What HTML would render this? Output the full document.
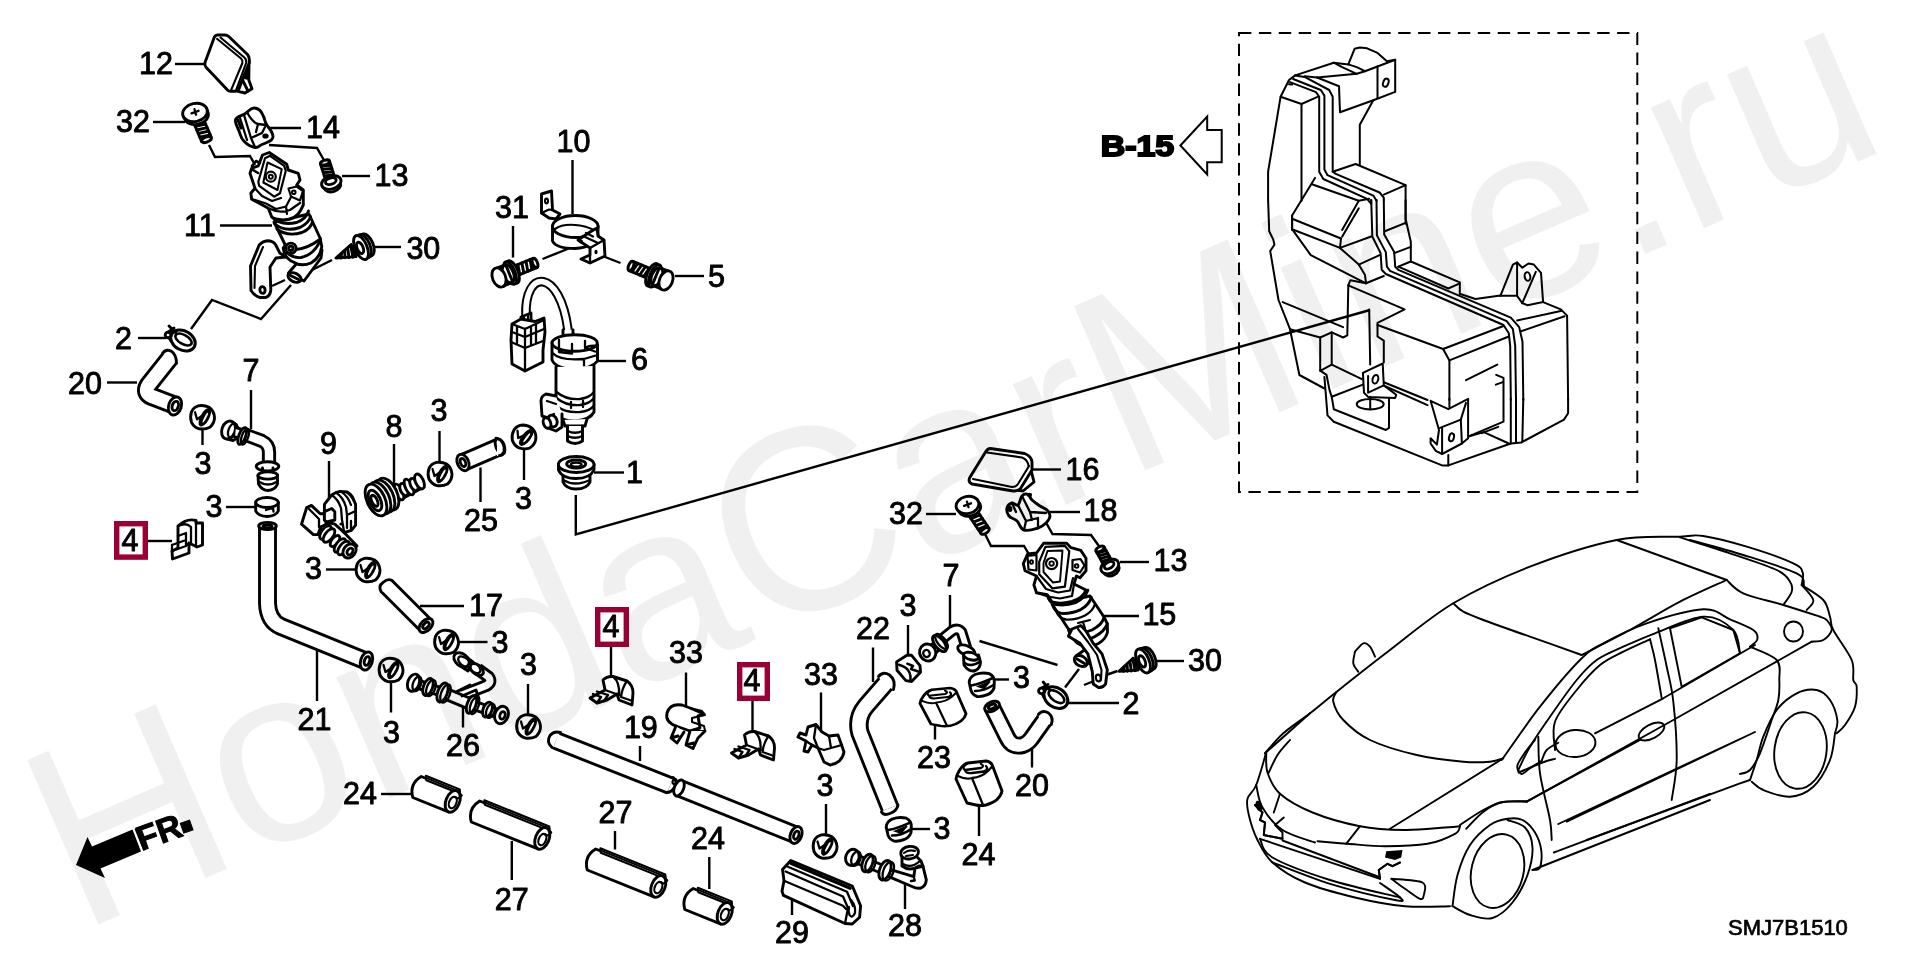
<!DOCTYPE html>
<html lang="en"><head><meta charset="utf-8"><title>SMJ7B1510 parts diagram</title>
<style>
html,body{margin:0;padding:0;background:#fff;}
body{width:1920px;height:960px;overflow:hidden;}
svg{display:block;will-change:transform;}
.lb{font-family:"Liberation Sans",Arial,sans-serif;font-size:30.5px;fill:#000;stroke:#000;stroke-width:0.9px;stroke-linejoin:round;}
.ld{fill:none;stroke:#000;stroke-width:2.4;stroke-linejoin:miter;}
.p{fill:none;stroke:#000;stroke-width:2.9;stroke-linejoin:round;stroke-linecap:round;}
.pf{fill:#fff;stroke:#000;stroke-width:2.9;stroke-linejoin:round;stroke-linecap:round;}
.t{fill:none;stroke:#000;stroke-width:2;stroke-linejoin:round;stroke-linecap:round;}
.tf{fill:#fff;stroke:#000;stroke-width:2;stroke-linejoin:round;stroke-linecap:round;}
.c{fill:none;stroke:#000;stroke-width:1.9;stroke-linejoin:round;stroke-linecap:round;}
.k{fill:#000;stroke:none;}
</style></head>
<body>
<svg width="1920" height="960" viewBox="0 0 1920 960">
<rect width="1920" height="960" fill="#fff"/>
<rect x="1239" y="33" width="398.3" height="459" fill="none" stroke="#000" stroke-width="2" stroke-dasharray="12.4 7.5"/>
<g id="tank">
<path class="t" d="M1295.2,75.4 L1289,80 L1280.6,96.7 L1268.1,171.7 L1268.1,200"/>
<path class="t" d="M1295.2,75.4 L1333.8,62.7 L1348.3,64.4 L1354.6,48.8 L1359.8,47.5 L1367.1,48.3 L1377.5,52.9 L1386.9,61.2 L1395.2,59.8 L1395.2,91.9 L1373.3,100.2 L1359.8,124.8 L1359.8,164.4"/>
<path class="t" d="M1377.5,66.5 L1395.2,59.8"/>
<path class="t" d="M1377.5,66.5 L1377.5,97.7"/>
<path class="t" d="M1333.8,62.7 L1342.1,67.1 L1356.7,73.8 L1365,71.2 L1377.5,66.5"/>
<path class="t" d="M1348.3,64.4 L1356.7,67.1 L1365,71.2"/>
<path class="t" d="M1317.1,77.5 L1356.7,73.8"/>
<path class="t" d="M1317.1,77.5 L1339,86.2 L1340,112.3 L1373.3,100.2"/>
<path class="t" d="M1304.6,76.2 L1317.1,77.5"/>
<path class="t" d="M1290,82.1 L1316,92.1 L1319.2,96.7 L1319.2,171.7 L1323.3,179 L1367.1,198.8 L1371.2,204 L1371.2,200"/>
<path class="t" d="M1293.1,79 L1320.8,90 L1324.4,95.6 L1324.4,169.6 L1327.5,175.2 L1373.3,195.6 L1376.5,200.8 L1376.5,200"/>
<path class="t" d="M1295.2,75.4 L1304.6,76.9 L1329.2,90 L1332.7,96.7 L1332.7,171.7 L1335.8,173.8 L1379.6,192.5 L1383.8,197.7 L1383.8,200"/>
<path class="t" d="M1280.6,96.7 L1301.5,104 L1318.1,96.7"/>
<path class="t" d="M1301.5,104 L1301.5,200.8"/>
<path class="t" d="M1289,84.2 L1292.1,84.6"/>
<path class="t" d="M1315,177.9 L1292.1,215.4 L1292.1,230"/>
<path class="t" d="M1311.9,184.2 L1358.8,200.8 L1369.2,198.8"/>
<path class="t" d="M1358.8,200.8 L1342.1,230"/>
<path class="t" d="M1332.7,171.7 L1355.6,164 L1405.6,185.2 L1405.6,223.8"/>
<path class="t" d="M1405.6,185.2 L1383.8,194.6"/>
<path class="t" d="M1268.1,200 L1269.2,231.2 L1273.3,239.6 L1274.4,244.8 L1270.2,251 L1278.5,300 L1290,329.2 L1299.4,375 L1324.4,388.5"/>
<path class="t" d="M1292.1,215.6 L1292.1,229.2 L1310.8,255.2 L1366,283.3"/>
<path class="t" d="M1292.1,218.8 L1341,238.5"/>
<path class="t" d="M1292.1,229.2 L1340,247.9"/>
<path class="t" d="M1342.1,236.7 L1358.8,208.3"/>
<path class="t" d="M1341,238.5 L1340,247.9 L1371.2,236.5"/>
<path class="t" d="M1340,247.9 L1358.8,264.6 L1365,275 L1366,283.3 L1383.8,276"/>
<path class="t" d="M1358.8,264.6 L1379.6,255.2"/>
<path class="t" d="M1371.2,200 L1372.3,236.5 L1380.6,253.1 L1381.7,269.8 L1385.8,274 L1503.5,325 L1508.8,333.3 L1510.2,345.8 L1510.8,400"/>
<path class="t" d="M1376.5,200 L1376.9,235.4 L1385.8,252.1 L1386.9,266.7 L1390,270.8 L1506.7,321.2 L1512.9,329.2 L1515.2,345.8 L1516,400"/>
<path class="t" d="M1383.8,200 L1384.2,234.4 L1394.2,252.1 L1395.2,266.7 L1398.3,269.8 L1510.8,317.7 L1519.2,327.1 L1522.5,341.7 L1523.3,400"/>
<path class="t" d="M1405.6,200 L1405.6,218.8 L1410.8,241.7 L1410.8,261.5 L1398.3,266.7"/>
<path class="t" d="M1405.6,222.9 L1384.8,231.2"/>
<path class="t" d="M1410.8,246.9 L1394.2,253.1"/>
<path class="t" d="M1410.8,261.5 L1459.8,282.3 L1459.8,293.8"/>
<path class="t" d="M1398.3,266.7 L1448.3,288.5 L1459.8,283.3"/>
<path class="t" d="M1459.8,293.8 L1475.4,299 L1500.4,295.4"/>
<path class="t" d="M1500.4,295.8 L1512.9,264.6 L1517.1,262.5 L1522.3,267.7 L1528.5,263.5 L1533.8,264.6 L1541,272.9 L1543.1,302.1 L1527.5,305.2 L1522.3,303.1 L1535.8,271.9"/>
<path class="t" d="M1517.1,262.5 L1517.1,295.8"/>
<path class="t" d="M1522.3,303.1 L1517.1,295.8 L1500.4,295.8"/>
<path class="t" d="M1543.1,302.1 L1560.8,309.4 L1567.1,315.6 L1568.1,400"/>
<path class="t" d="M1521.2,331.2 L1564.6,316.2"/>
<path class="t" d="M1517.1,320.4 L1561.9,310.8"/>
<path class="t" d="M1348.3,285.4 L1350.4,280.2 L1366,283.3"/>
<path class="t" d="M1348.3,285.4 L1404.6,309.4 L1377.5,322.9 L1377.5,336.5 L1383.8,340.6 L1383.8,362.5"/>
<path class="t" d="M1348.3,285.4 L1347.3,335.4 L1343.1,337.5 L1331.7,332.3 L1320.2,337.5 L1320.2,370.8 L1331.7,364.6 L1361.9,379.2"/>
<path class="t" d="M1331.7,332.3 L1331.7,364.6"/>
<path class="t" d="M1369.2,309.4 L1370.2,364.6"/>
<path class="t" d="M1282.7,302.1 L1343.1,327.1"/>
<path class="t" d="M1290,329.2 L1320.2,337.5"/>
<path class="t" d="M1377.5,325 L1443.1,349 L1449.4,360.4 L1449.4,400"/>
<path class="t" d="M1443.1,349 L1503.5,326"/>
<path class="t" d="M1449.4,360.4 L1508.8,336.5"/>
<path class="t" d="M1362.9,372.9 L1382.7,363.5 L1383.8,385.4 L1396.2,394.8 L1395.2,397.9 L1368.1,396.9 L1364,392.7 L1362.9,372.9"/>
<path class="t" d="M1368.1,376 L1368.1,392.7 L1383.8,385.4"/>
<path class="t" d="M1466,380.2 L1497.3,364.6"/>
<path class="t" d="M1383.8,382.3 L1427.5,400"/>
<path class="t" d="M1385.8,386.5 L1427.5,405.2"/>
<path class="t" d="M1320.2,370.6 L1326.5,374.8 L1329.6,390.4 L1331.7,396.7 L1333.8,409.2 L1385.8,430 L1389,427.9 L1389,398.8"/>
<path class="t" d="M1324.4,376.9 L1327.5,415.4 L1333.8,421.7 L1442.1,465.4 L1448.3,465.4 L1510.8,443.5 L1521.2,442.5 L1564,419.6 L1568.1,413.3 L1568.1,398.8"/>
<path class="t" d="M1331.7,396.7 L1362.9,384.6"/>
<path class="t" d="M1449.4,398.8 L1449.4,407.1"/>
<path class="t" d="M1430.6,400.8 L1448.3,409.2 L1468.1,398.8 L1468.1,438.3 L1461.9,443.5 L1442.1,454 L1435.8,450.8 L1430.6,443.5 L1430.6,438.3 L1436.9,444.6 L1439,430 L1430.6,400.8"/>
<path class="t" d="M1440,427.9 L1460.8,419.6 L1466,402.9"/>
<path class="t" d="M1442.1,427.9 L1442.1,454"/>
<path class="t" d="M1460.8,419.6 L1461.9,443.5"/>
<path class="t" d="M1496.2,374.8 L1503.5,377.9 L1503.5,421.7 L1469.2,436.2"/>
<path class="t" d="M1495.8,384.6 L1502.9,382.1"/>
<path class="t" d="M1469.2,436.2 L1483.8,432.1 L1508.8,443.5"/>
<path class="t" d="M1481.7,433.1 L1498.3,426.9"/>
<path class="t" d="M1510.8,398.8 L1510.8,443.5"/>
<path class="t" d="M1516,398.8 L1516,443.1"/>
<path class="t" d="M1523.3,398.8 L1522.3,441.5"/>
<path class="t" d="M1448.3,455 L1448.3,465.4"/>
<path class="t" d="M1370.2,396.7 L1370.2,409.2"/>
<ellipse class="t" cx="1385.8" cy="82.7" rx="2.6" ry="4.2" transform="rotate(20 1385.8 82.7)"/>
<ellipse class="t" cx="1527.5" cy="276.5" rx="2.8" ry="4.4" transform="rotate(-10 1527.5 276.5)"/>
<ellipse class="t" cx="1375.4" cy="379.3" rx="2.8" ry="4.4" transform="rotate(15 1375.4 379.3)"/>
<ellipse class="t" cx="1451.5" cy="437.3" rx="2.4" ry="4" transform="rotate(15 1451.5 437.3)"/>
<ellipse class="t" cx="1370.2" cy="404.2" rx="13.5" ry="5.2"/>
</g>
<g id="car">
<ellipse class="c" cx="1575.5" cy="743.5" rx="20" ry="13.5" transform="rotate(-5 1575.5 743.5)"/>
<ellipse class="c" cx="1651.5" cy="731.5" rx="14" ry="7" transform="rotate(-28 1651.5 731.5)"/>
<ellipse class="c" cx="1800.5" cy="750.5" rx="26" ry="38.5" transform="rotate(8 1800.5 750.5)"/>
<ellipse class="c" cx="1793.5" cy="631.5" rx="9.5" ry="10"/>
<ellipse class="c" cx="1497.5" cy="871" rx="26" ry="37.5" transform="rotate(14 1497.5 871)"/>
<path class="c" d="M1265,753.3 C1268.1,750 1275.8,740 1283.3,733.3 C1290.8,726.7 1301.1,720.3 1310,713.3 C1318.9,706.4 1323.3,702.2 1336.7,691.7 C1350,681.1 1370.6,664.7 1390,650 C1409.4,635.3 1430,617.2 1453.3,603.3 C1476.7,589.4 1502.8,577.2 1530,566.7 C1557.2,556.1 1591.7,545 1616.7,540 C1641.7,535 1665.6,537.3 1680,536.7 C1694.4,536 1692.2,534.3 1703.3,536 C1714.4,537.7 1731.7,542.1 1746.7,546.7 C1761.7,551.2 1784,559 1793.3,563.3 C1802.7,567.7 1801.3,569.1 1802.7,572.7 C1804.1,576.3 1801.8,582.9 1801.7,585"/>
<path class="c" d="M1801.7,585 C1805.3,587.5 1818.6,594.7 1823.3,600 C1828.1,605.3 1828.3,611.7 1830,616.7 C1831.7,621.7 1829.7,622.8 1833.3,630 C1836.9,637.2 1848.3,651.7 1851.7,660 C1855,668.3 1852.5,675.6 1853.3,680 C1854.2,684.4 1856.4,682.2 1856.7,686.7 C1856.9,691.1 1856.9,700.3 1855,706.7 C1853.1,713.1 1848.1,720.6 1845,725 C1841.9,729.4 1838.1,731.9 1836.7,733.3"/>
<path class="c" d="M1336.7,691.7 C1336.1,693.3 1332.2,696.9 1333.3,701.7 C1334.4,706.4 1337.2,713.6 1343.3,720 C1349.4,726.4 1357.8,734.2 1370,740 C1382.2,745.8 1401.1,751.4 1416.7,755 C1432.2,758.6 1451.1,760.6 1463.3,761.7 C1475.6,762.8 1483.3,762.2 1490,761.7 C1496.7,761.1 1501.1,758.9 1503.3,758.3"/>
<path class="c" d="M1453.3,603.3 C1455,604.7 1458.3,608.9 1463.3,611.7 C1468.3,614.4 1472.2,615.8 1483.3,620 C1494.4,624.2 1513.6,630.8 1530,636.7 C1546.4,642.5 1573.1,651.9 1581.7,655"/>
<path class="c" d="M1501.7,760 C1508.1,751.1 1526.9,723.3 1540,706.7 C1553.1,690 1569.4,670.6 1580,660 C1590.6,649.4 1592.2,649.4 1603.3,643.3 C1614.4,637.2 1630,629 1646.7,623.3 C1663.3,617.7 1689.4,610 1703.3,609.3 C1717.2,608.7 1721.7,615.9 1730,619.3 C1738.3,622.8 1748.8,626.7 1753.3,630 C1757.9,633.3 1757.9,636.6 1757.3,639.3 C1756.8,642.1 1751.2,645.4 1750,646.7"/>
<path class="c" d="M1581.7,655 C1589.7,650.8 1613.6,638.9 1630,630 C1646.4,621.1 1663.9,610 1680,601.7 C1696.1,593.3 1718.9,583.6 1726.7,580"/>
<path class="c" d="M1726.7,580 C1729.4,582.2 1733.9,589.2 1743.3,593.3 C1752.8,597.5 1770.6,601.1 1783.3,605 C1796.1,608.9 1813.9,614.7 1820,616.7"/>
<path class="c" d="M1680,537.3 C1688.3,540 1713.9,547.9 1730,553.3 C1746.1,558.8 1766.7,565.3 1776.7,570 C1786.7,574.7 1787.5,578.1 1790,581.7 C1792.5,585.3 1792.8,587.8 1791.7,591.7 C1790.6,595.6 1784.7,602.8 1783.3,605"/>
<path class="c" d="M1690,540 C1698.9,542.5 1725.6,549.4 1743.3,555 C1761.1,560.6 1786.6,568.3 1796.7,573.3 C1806.8,578.3 1802.8,583.1 1804,585"/>
<path class="c" d="M1801.7,585 C1803.6,587.5 1812.5,595.8 1813.3,600 C1814.2,604.2 1807.8,608.3 1806.7,610"/>
<path class="c" d="M1820,616.7 C1821.1,617.2 1824.7,617.8 1826.7,620 C1828.6,622.2 1832.2,626.7 1831.7,630 C1831.1,633.3 1826.7,638.1 1823.3,640 C1820,641.9 1813.6,641.4 1811.7,641.7"/>
<path class="c" d="M1555,750 C1555,745.3 1551.4,731.7 1555,721.7 C1558.6,711.7 1569.2,699.4 1576.7,690 C1584.2,680.6 1592.2,671.4 1600,665 C1607.8,658.6 1615,655.9 1623.3,651.7 C1631.7,647.4 1645.6,641.4 1650,639.3"/>
<path class="c" d="M1650,639.3 C1650.8,642.8 1653.1,650.2 1655,660 C1656.9,669.8 1660.6,691.9 1661.7,698.3"/>
<path class="c" d="M1518.3,770 C1520.3,766.1 1524.7,755.6 1530,746.7 C1535.3,737.8 1542.2,727.8 1550,716.7 C1557.8,705.6 1568.9,689.4 1576.7,680 C1584.4,670.6 1588.9,665.6 1596.7,660 C1604.4,654.4 1613.6,651.1 1623.3,646.7 C1633.1,642.2 1641.7,638.3 1655,633.3 C1668.3,628.3 1690.3,617.2 1703.3,616.7 C1716.4,616.1 1727.2,623.9 1733.3,630 C1739.4,636.1 1738.9,649.4 1740,653.3"/>
<path class="c" d="M1518.3,770 C1518.9,770.7 1519.7,774.3 1521.7,774 C1523.6,773.7 1526.7,770.6 1530,768.3 C1533.3,766.1 1539.7,761.9 1541.7,760.7"/>
<path class="c" d="M1658.3,628.3 C1659.7,634.7 1664.2,654.4 1666.7,666.7 C1669.2,678.9 1671.7,686.1 1673.3,701.7 C1675,717.2 1676.9,743.6 1676.7,760 C1676.4,776.4 1672.5,793.3 1671.7,800"/>
<path class="c" d="M1538.3,736.7 C1538.6,742.8 1538.1,759.4 1540,773.3 C1541.9,787.2 1548.1,808.9 1550,820 C1551.9,831.1 1551.4,836.7 1551.7,840"/>
<path class="c" d="M1541.7,760.7 C1542.5,758.9 1543.9,753 1546.7,750 C1549.4,747 1556.4,743.9 1558.3,742.7"/>
<path class="c" d="M1460,825 C1463.9,822.5 1476.1,813.8 1483.3,810 C1490.6,806.2 1496.1,803.4 1503.3,802 C1510.6,800.6 1522.8,801.7 1526.7,801.7"/>
<path class="c" d="M1750,646.7 C1754.4,648.9 1771.8,654.4 1776.7,660 C1781.6,665.6 1779.1,673.3 1779.3,680 C1779.6,686.7 1779.6,693.3 1778.3,700 C1777.1,706.7 1774.7,711.1 1771.7,720 C1768.6,728.9 1763.6,745 1760,753.3 C1756.4,761.7 1753.3,766.6 1750,770 C1746.7,773.4 1741.7,773.3 1740,774"/>
<path class="c" d="M1750,780 C1751.1,776.7 1754.4,767.2 1756.7,760 C1758.9,752.8 1760,745 1763.3,736.7 C1766.7,728.3 1771.1,717.2 1776.7,710 C1782.2,702.8 1790,696.7 1796.7,693.3 C1803.3,690 1811.1,688.9 1816.7,690 C1822.2,691.1 1826.6,695 1830,700 C1833.4,705 1836.5,714.4 1837.3,720 C1838.2,725.6 1835.4,731.1 1835,733.3"/>
<path class="c" d="M1751.7,781.7 C1753.6,783.1 1756.9,787.5 1763.3,790 C1769.7,792.5 1781.7,797.2 1790,796.7 C1798.3,796.1 1806.7,792.8 1813.3,786.7 C1820,780.6 1826.4,768.9 1830,760 C1833.6,751.1 1834.2,737.8 1835,733.3"/>
<path class="c" d="M1266.2,752.5 C1266.5,755.8 1265.2,765.6 1267.5,772.5 C1269.8,779.4 1272.5,787.1 1280,793.8 C1287.5,800.4 1299.2,807.1 1312.5,812.5 C1325.8,817.9 1344.6,823.3 1360,826.2 C1375.4,829.2 1390.8,829.8 1405,830 C1419.2,830.2 1435.8,828.1 1445,827.5 C1454.2,826.9 1457.5,826.5 1460,826.2"/>
<path class="c" d="M1460,826.2 C1459.2,827.5 1460.4,830.8 1455,833.8 C1449.6,836.7 1439.2,841.7 1427.5,843.8 C1415.8,845.8 1398.3,846.2 1385,846.2 C1371.7,846.2 1358.8,844.6 1347.5,843.8 C1336.2,842.9 1322.5,841.7 1317.5,841.2"/>
<path class="c" d="M1290,740 C1287.9,742.5 1281,749.6 1277.5,755 C1274,760.4 1270.2,769.6 1268.8,772.5"/>
<path class="c" d="M1266.2,752.5 C1264.6,757.9 1259.4,777.3 1256.2,785 C1253.1,792.7 1248.8,793.8 1247.5,798.8 C1246.2,803.8 1247.1,808.1 1248.8,815 C1250.4,821.9 1253.5,832.1 1257.5,840 C1261.5,847.9 1264.6,855.4 1272.5,862.5 C1280.4,869.6 1291.2,876.7 1305,882.5 C1318.8,888.3 1338.3,893.5 1355,897.5 C1371.7,901.5 1389.2,904.8 1405,906.2 C1420.8,907.7 1442.5,906.2 1450,906.2"/>
<path class="c" d="M1256.2,785 C1257.3,788.8 1258.1,800 1262.5,807.5 C1266.9,815 1273.8,824.2 1282.5,830 C1291.2,835.8 1309.6,840.4 1315,842.5"/>
<path class="c" d="M1260,838.8 C1262.1,841.9 1260.8,850.6 1272.5,857.5 C1284.2,864.4 1308.8,873.3 1330,880 C1351.2,886.7 1388.3,894.6 1400,897.5"/>
<path class="c" d="M1272.5,862.5 C1282.1,866 1309.6,877.5 1330,883.8 C1350.4,890 1383.3,897.7 1395,900 C1406.7,902.3 1402.5,900.3 1400,897.5 C1397.5,894.7 1383.3,885.4 1380,883"/>
<path class="c" d="M1391.2,878.8 C1396.5,879.4 1417.1,879.8 1422.5,882.5 C1427.9,885.2 1424.2,892.3 1423.8,895 C1423.3,897.7 1423.1,899.8 1420,898.8 C1416.9,897.7 1409.8,892.1 1405,888.8 C1400.2,885.4 1393.5,880.4 1391.2,878.8"/>
<path class="c" d="M1466.2,828.8 C1469,826 1476.9,816.9 1482.5,812.5 C1488.1,808.1 1492.5,804.4 1500,802.5 C1507.5,800.6 1522.9,801.5 1527.5,801.2"/>
<path class="c" d="M1452.5,906.2 C1453.3,901 1454.6,885.2 1457.5,875 C1460.4,864.8 1464.6,853.3 1470,845 C1475.4,836.7 1483.8,829.4 1490,825 C1496.2,820.6 1502.1,819.6 1507.5,818.8 C1512.9,817.9 1517.9,817.7 1522.5,820 C1527.1,822.3 1531.9,827.5 1535,832.5 C1538.1,837.5 1540.4,844.2 1541.2,850 C1542.1,855.8 1541.5,864.2 1540,867.5 C1538.5,870.8 1533.8,869.6 1532.5,870"/>
<path class="c" d="M1452.5,906.2 C1455.4,907.7 1463.3,913 1470,915 C1476.7,917 1485.4,920.1 1492.5,918 C1499.6,915.9 1506.7,909.7 1512.5,902.5 C1518.3,895.3 1524.2,884.2 1527.5,875 C1530.8,865.8 1532.9,855.4 1532.5,847.5 C1532.1,839.6 1529.2,832.1 1525,827.5 C1520.8,822.9 1510.4,821.2 1507.5,820"/>
<path class="c" d="M1518.8,772.5 C1518.5,771.2 1516.5,768.3 1517.5,765 C1518.5,761.7 1522.1,756.7 1525,752.5 C1527.9,748.3 1533.3,742.1 1535,740"/>
<path class="c" d="M1518.8,772.5 C1522.7,770.8 1536.5,764.8 1542.5,762.5 C1548.5,760.2 1552.9,759.4 1555,758.8"/>
<path class="c" d="M1355,651.7 C1356.4,650.3 1360.8,644.2 1363.3,643.3 C1365.8,642.5 1368.1,644.4 1370,646.7 C1371.9,648.9 1374.2,655 1375,656.7"/>
<path class="c" d="M1355,651.7 C1354.7,653.6 1352.8,660 1353.3,663.3 C1353.9,666.7 1357.5,670.3 1358.3,671.7"/>
<path class="c" d="M1616.7,540 L1726.7,580"/>
<path class="c" d="M1595,733.3 L1663.3,698.3 L1755,645"/>
<path class="c" d="M1670,628.3 L1701.7,617.3 L1733.3,630 L1740,653.3 L1681.7,686.7 L1670,628.3"/>
<path class="c" d="M1526.7,801.7 L1673.3,720 L1811.7,641.7"/>
<path class="c" d="M1558.3,824 L1755,732 L1566.7,821.7"/>
<path class="c" d="M1586.7,840 L1740,783.3 L1750,780"/>
<path class="c" d="M1532.5,870 L1710,800"/>
<path class="c" d="M1553.8,852.5 L1557.5,851.2 L1710,793.8"/>
<path class="c" d="M1360,826.2 L1346.2,843.8"/>
<path class="c" d="M1390,828.8 L1502.5,758.8"/>
<path class="c" d="M1265,753.3 L1310,713.3"/>
<path class="c" d="M1280,793.8 L1273.8,812.5"/>
<path class="c" d="M1255,805 L1262.5,812.5 L1260,820 L1265,822.5 L1263.8,835 L1282.5,838.8 L1282.5,832.5 L1275,825 L1283.8,817.5"/>
<path class="c" d="M1260,838.8 L1380,878.8 L1378.8,870 L1387.5,863.8 L1392.5,866.2 L1400,862.5"/>
<path class="c" d="M1282.5,840.5 L1379,877"/>
<path class="c" d="M1527.5,801.2 L1640,740"/>
<ellipse class="k" cx="1259" cy="806" rx="3.2" ry="5.5" transform="rotate(-20 1259 806)"/>
<path class="k" d="M1386.2,851.2 L1402.5,850 L1401.2,857.5 L1395,860 L1385,857.5Z"/>
<path class="c" d="M1255,805 L1262.5,812.5 L1260,820 L1265,822.5 L1263.8,835 L1282.5,838.8" style="stroke-width:2"/>
<path class="c" d="M1380,878.8 L1378.8,870 L1387.5,863.8 L1392.5,866.2 L1400,862.5" style="stroke-width:2"/>
</g>
<g class="ld">
<polyline points="175,64 205,64"/>
<polyline points="153,122 185,122"/>
<polyline points="209,145 215,157 250,156 255,165"/>
<polyline points="268,128 301,128"/>
<polyline points="269,145 317,148 325,162"/>
<polyline points="342,176 370,176"/>
<polyline points="220,225.5 272,225.5"/>
<polyline points="372,247 401,247"/>
<polyline points="310,271 332,260"/>
<polyline points="191,329 212,300 261,319 291,285"/>
<polyline points="272,286 285,280"/>
<polyline points="138,338 166,338"/>
<polyline points="107,382.5 137,382.5"/>
<polyline points="251,390 251,429"/>
<polyline points="202.5,429 202.5,445"/>
<polyline points="226,507 255,507"/>
<polyline points="148,541 172,541"/>
<polyline points="329,461 329,500"/>
<polyline points="394,444 394,485"/>
<polyline points="439.5,431 439.5,462.5"/>
<polyline points="326,569.5 355,569.5"/>
<polyline points="420,606 464,606"/>
<polyline points="480.5,467.5 480.5,502"/>
<polyline points="524,450 524,480"/>
<polyline points="572.5,160 572.5,214"/>
<polyline points="513,226 513,257.5"/>
<polyline points="542.5,259 570,248"/>
<polyline points="602.5,256 620.5,263"/>
<polyline points="675,276 704,276"/>
<polyline points="597.5,361 626,361"/>
<polyline points="594,472.5 624,472.5"/>
<polyline points="575.8,495 575.8,534.5 1370,310"/>
<polyline points="317,651 317,701"/>
<polyline points="391,682.5 391,712.5"/>
<polyline points="463,706 463,727.5"/>
<polyline points="381,794 411,794"/>
<polyline points="459,642 487.5,642"/>
<polyline points="528,684 528,715"/>
<polyline points="611,647 611,676"/>
<polyline points="686,672.5 686,706"/>
<polyline points="752.5,701 752.5,731"/>
<polyline points="821,692.5 821,730"/>
<polyline points="873,647.5 873,682"/>
<polyline points="908,625 908,655"/>
<polyline points="640,746 640,761"/>
<polyline points="615,831 615,849.5"/>
<polyline points="511.8,841 511.8,880"/>
<polyline points="709.3,857 709.3,889"/>
<polyline points="792,900 792,915"/>
<polyline points="905,882.5 905,909"/>
<polyline points="826,804 826,835"/>
<polyline points="911,829 930,829"/>
<polyline points="935,724 935,739.5"/>
<polyline points="979,805 979,836"/>
<polyline points="1032,747.5 1032,767.5"/>
<polyline points="1032.5,469.5 1061,469.5"/>
<polyline points="926,514 956,514"/>
<polyline points="985,534 991,546 1024,546 1030,556"/>
<polyline points="1049,512 1080,512"/>
<polyline points="1046,522.5 1052.5,534 1091,535 1100,547.5"/>
<polyline points="1120,562 1149,562"/>
<polyline points="1100,616 1139,616"/>
<polyline points="950,595 950,626"/>
<polyline points="979.5,641 1057.5,665"/>
<polyline points="1155,661 1184,661"/>
<polyline points="994,679.5 1009,679.5"/>
<polyline points="1067.5,703 1119,703"/>
<polyline points="1065,687.5 1079,669"/>
<polyline points="1084,685 1094,681"/>
<polyline points="1106,675 1117.5,671"/>
</g>
<g id="parts">
<path class="pf" d="M249,63 L248.8,80 L252,88.8 L245,93 L238,91.3Z"/>
<path class="k" d="M246,68 L248.6,64 L248.6,80 L244,79Z"/>
<path class="p" d="M242.5,80 L248,91"/>
<path class="pf" d="M214.4,37 Q215.5,35 217.5,35 L225,35 Q227,35 228.5,36.3 L247.5,54.5 Q249.6,57 249.4,62.5 L238.3,89.5 Q237.5,91.3 235.5,91.3 L230.5,91.3 Q228.8,91.3 227.5,90 L206,67.3 Q204.3,65.2 205,62.5 Z"/>
<path class="p" d="M217,38.8 L241,58.5 Q243,60.3 242.4,63 L231.3,89.6" style="stroke-width:2.1"/>
<path class="p" d="M220.5,37.5 L244.4,57.5 Q246.8,59.8 246.2,62.8 L236.2,89.8" style="stroke-width:2.1"/>
<path class="pf" d="M194.1,123.8 L201.7,141.6 L211.3,137.4 L203.7,119.6Z"/>
<path class="p" d="M195.2,126.4 L205.7,124.1"/>
<path class="p" d="M196.7,130 L207.2,127.7"/>
<path class="p" d="M198.2,133.5 L208.7,131.2"/>
<path class="p" d="M199.8,137.1 L210.2,134.8"/>
<ellipse class="pf" cx="206.5" cy="139.5" rx="5.2" ry="2.5" transform="rotate(156.9 206.5 139.5)"/>
<ellipse class="pf" cx="196.4" cy="115.7" rx="12.1" ry="8.7" transform="rotate(-12 196.4 115.7)"/>
<ellipse class="pf" cx="195" cy="112.5" rx="12.5" ry="9" transform="rotate(-12 195 112.5)"/>
<path class="p" d="M191.5,113.3 l7,-2.5 M196,114.7 l-1.5,-5.5" style="stroke-width:2.3"/>
<path class="pf" d="M235.6,119.5 C236.8,116.1 241.6,116 245,113.8 C248.4,111.6 249.6,109.1 252.5,108.3 C255.4,107.5 257.3,108.4 259.5,110 C261.7,111.6 262.1,113.7 263.5,116.5 C264.9,119.3 264.5,120.6 266.3,124 C268.1,127.4 271.3,130.3 272.3,133.5 C273.3,136.7 273.4,137.8 271.3,140 C269.2,142.2 265.3,143 262,144.5 C258.7,146 258.6,148.1 255,147.5 C251.4,146.9 247.2,144.6 244,141.3 C240.8,138 240.7,135.4 239,131 C237.3,126.6 234.4,122.9 235.6,119.5Z"/>
<path class="p" d="M240,118 L247,140 M244,115 L251,138 L255,147 M247,112 Q252,122 258,124 L266,125 M251,138 L262,133 L266,125 M258,124 L256,132" style="stroke-width:2.3"/>
<ellipse class="k" cx="265.5" cy="136" rx="3.2" ry="2.6"/>
<path class="p" d="M238,120 l3,8" style="stroke-width:3"/>
<path class="pf" d="M320.5,163.9 L325.6,180.1 L334.6,177.3 L329.5,161.1Z"/>
<path class="p" d="M321.2,166.2 L330.9,165.3"/>
<path class="p" d="M322.2,169.4 L331.9,168.5"/>
<path class="p" d="M323.2,172.7 L332.9,171.7"/>
<path class="p" d="M324.2,175.9 L333.9,175"/>
<ellipse class="pf" cx="325" cy="162.5" rx="4.8" ry="2.2" transform="rotate(162.5 325 162.5)"/>
<ellipse class="pf" cx="332.4" cy="185.8" rx="8.5" ry="5.9" transform="rotate(162.5 332.4 185.8)"/>
<ellipse class="pf" cx="331.3" cy="182.5" rx="10" ry="6.5" transform="rotate(162.5 331.3 182.5)"/>
<ellipse class="p" cx="330.8" cy="181.1" rx="5.5" ry="3.2" transform="rotate(162.5 330.8 181.1)"/>
<path class="pf" d="M259.2,245 Q263,241 267.5,240.8 Q273,241 275.5,244.5 L280,253.3 L286,257 L276,258 L270,267 L270.8,290 Q270,296.5 265.5,297.5 L260,297.5 Q255,296.5 251,290.5 L250.5,266 Z"/>
<path class="p" d="M263,247 L255,266 L254.5,288" style="stroke-width:2.1"/>
<ellipse class="p" cx="262.5" cy="290" rx="2.6" ry="3.4" transform="rotate(-10 262.5 290)"/>
<path class="pf" d="M288.5,273 L298,262 L322,250 L321,258 L304,281 Z"/>
<ellipse class="pf" cx="294.5" cy="277.5" rx="7" ry="4.3" transform="rotate(25 294.5 277.5)"/>
<path class="p" d="M290.5,275.5 L298.5,279.5"/>
<path class="pf" d="M283.3,248 Q284,258 293.3,262 Q301,267 311,263 Q320,258 321.8,246.5 L320,238 L286,244 Z"/>
<path class="p" d="M283.3,248.3 Q290,258.5 301,257.5 Q314,255 320.5,240"/>
<path class="pf" d="M274,222 L286.5,247.5 Q300,254 320.5,239 L309,214 Z"/>
<path class="p" d="M271.7,216.7 Q280,226 296.7,222.5 Q306,219 308.5,211"/>
<path class="p" d="M274.2,223.3 Q284,232.5 300,227.5 Q309,223 310.5,216.7"/>
<path class="p" d="M277,229 Q287,237 302,232.5 Q310.5,229 312.5,222"/>
<ellipse class="pf" cx="290.8" cy="248.3" rx="5.2" ry="5.2"/>
<ellipse class="p" cx="290.8" cy="248.3" rx="2.2" ry="2.2"/>
<path class="pf" d="M262.5,155 L269.2,152.5 L286.7,164.2 L288.3,170 L298.3,173.3 L300,180 L296.7,185 L303.3,190 L303.3,205 L300.8,210 Q296,220 283,220 Q274,219 271.7,216.7 L268.3,208.3 L251.7,199.2 L250.8,193.3 L255,188.3 L250,173.3 L251.7,168.3 L258.3,165.8 Z"/>
<path class="p" d="M265,158.3 L270,155.8 L284.2,165.8 L285.8,170.8 L280,193.3 L274.2,196.7 L259.2,185.8 L258.3,181.7Z" style="stroke-width:2.2"/>
<path class="p" d="M267.5,162.5 L281.7,169.2 L277.5,190 L263.3,182.5Z" style="stroke-width:2"/>
<ellipse class="pf" cx="270.8" cy="176.7" rx="5" ry="5" style="stroke-width:2.2"/>
<ellipse class="p" cx="270.8" cy="176.7" rx="2" ry="2" style="stroke-width:2"/>
<path class="p" d="M288.5,188.5 L296.7,186.5 L303,191 L300,200.5 L291,196.5Z" style="stroke-width:2.2"/>
<ellipse class="p" cx="293.8" cy="192.3" rx="1.8" ry="1.8" style="stroke-width:2"/>
<path class="p" d="M255,188.5 L262,196 L272,201 L281,198 M251.5,199 L266,203.5 L276,209 L286,206.5 L291,197 M268.3,208.3 Q280,214 290,210 L300,203 M286,206.5 L287,214" style="stroke-width:2.2"/>
<path class="p" d="M252,166 l4,-5 l4,2 M253,170 l5,3" style="stroke-width:2.6"/>
<path class="pf" d="M336,258 L356.1,256.6 L351.1,244.6Z"/>
<path class="p" d="M340.9,258 L341.6,253.5"/>
<path class="p" d="M345,257.8 L344.7,250.8"/>
<path class="p" d="M349,257.5 L347.7,248.2"/>
<path class="p" d="M353,257.2 L350.7,245.5"/>
<ellipse class="pf" cx="367.5" cy="244.8" rx="5.5" ry="11.5" transform="rotate(-22.8 367.5 244.8)"/>
<path class="p" d="M365.8,259 L371.9,255.4"/>
<path class="p" d="M356.2,236 L363,234.2"/>
<ellipse class="pf" cx="364.2" cy="246.1" rx="5.8" ry="12.2" transform="rotate(-22.8 364.2 246.1)"/>
<ellipse class="pf" cx="361" cy="247.5" rx="6" ry="12.8" transform="rotate(-22.8 361 247.5)"/>
<ellipse class="p" cx="360.1" cy="247.9" rx="3" ry="6" transform="rotate(-22.8 360.1 247.9)"/>
<g transform="translate(181 339) rotate(0)">
<ellipse class="pf" cx="2" cy="1.5" rx="13" ry="9.6" transform="rotate(30 2 1.5)" style="stroke-width:3"/>
<ellipse class="pf" cx="2.5" cy="0.5" rx="9" ry="4.6" transform="rotate(30 2.5 0.5)" style="stroke-width:2.6"/>
<path class="p" d="M-9,-8 L-13,-3 L-10,2 M-12,-13 L-5,-6 M-14,-6 L-7,-11"/>
<ellipse class="pf" cx="-13" cy="-4" rx="2.8" ry="2.8"/>
</g>
<path d="M169.5,358.5 L148.5,385 Q143.5,393 152,396.5 L175.5,405.5" fill="none" stroke="#000" stroke-width="19.4" stroke-linecap="butt" stroke-linejoin="round"/>
<path d="M169.5,358.5 L148.5,385 Q143.5,393 152,396.5 L175.5,405.5" fill="none" stroke="#fff" stroke-width="13.6" stroke-linecap="butt" stroke-linejoin="round"/>
<path d="M163.5,354.5 Q166,350.5 170.5,352.5 Q175,355.5 175,362.5 L170.5,366.5 Z" fill="#fff" stroke="none"/>
<path class="p" d="M162.5,353.5 Q165.5,348.5 171,351 Q176.5,354.5 176.5,363.5"/>
<ellipse class="pf" cx="175" cy="406" rx="6.3" ry="9.3" transform="rotate(18 175 406)"/>
<ellipse class="p" cx="175.3" cy="406" rx="3" ry="4.8" transform="rotate(18 175.3 406)"/>
<g transform="translate(202.5 417.3) rotate(0)">
<path class="pf" d="M-3.5,-11.6 Q2,-12.4 6.5,-10 Q11.5,-6.5 12,0 Q12.2,5.5 7.5,10 Q3,12.3 -3,11.6 Q-8.5,10 -11,5 Q-12.8,0 -11,-5.5 Q-8.5,-10.5 -3.5,-11.6 Z"/>
<ellipse class="k" cx="2.3" cy="0" rx="3.4" ry="9" transform="rotate(28 2.3 0)" style="stroke:#000;stroke-width:2.2"/>
<ellipse class="k" cx="2.8" cy="0.3" rx="1" ry="5.5" transform="rotate(28 2.8 0.3)" style="fill:#fff"/>
<path class="p" d="M-7.5,-5 L-5.5,2 L-1,-1" style="stroke-width:2.3"/>
</g>
<g transform="translate(0 0)">
<path d="M243,433.8 L262,441 Q269,444.5 269,452 L269,466" fill="none" stroke="#000" stroke-width="14.2" stroke-linecap="butt" stroke-linejoin="round"/>
<path d="M243,433.8 L262,441 Q269,444.5 269,452 L269,466" fill="none" stroke="#fff" stroke-width="8.4" stroke-linecap="butt" stroke-linejoin="round"/>
<path class="pf" d="M229,421.5 L236,424.5 L238.5,429 L237.5,438 L233,440.5 L226,438.5"/>
<ellipse class="pf" cx="228.5" cy="430" rx="6.6" ry="9.2" transform="rotate(20 228.5 430)"/>
<ellipse class="p" cx="232.5" cy="430.5" rx="4" ry="7.6" transform="rotate(20 232.5 430.5)" style="stroke-width:2.3"/>
<path class="pf" d="M236,427.5 L242,429.5 L240.5,438.5 L235,437"/>
<ellipse class="pf" cx="242.2" cy="436" rx="3.4" ry="8.8" transform="rotate(20 242.2 436)"/>
<ellipse class="p" cx="245" cy="436.6" rx="3.2" ry="8.4" transform="rotate(20 245 436.6)" style="stroke-width:2.3"/>
<ellipse class="pf" cx="267.5" cy="466.3" rx="11.3" ry="4.6"/>
<path class="p" d="M262.5,468 L262.5,476 M273,468 L273,476"/>
<path class="pf" d="M258,475.5 L258.5,484 Q262,490.5 268,490.5 Q275,490 277.5,484 L277.5,475.5"/>
<ellipse class="pf" cx="267.8" cy="475.5" rx="9.8" ry="3.6"/>
<path class="p" d="M258.5,481.5 Q268,487.5 277.5,481.5" style="stroke-width:2.3"/>
</g>
<path class="pf" d="M255.7,502.5 L255.7,511 Q258,516 267,516.5 Q276,516 278.3,511 L278.3,502.5"/>
<ellipse class="pf" cx="267" cy="502.5" rx="11.3" ry="5"/>
<path class="p" d="M266,510 l7,-2 l0.5,3.5" style="stroke-width:2.3"/>
<path d="M267.5,526 L267.5,603 Q268,621 281,626.5 L366,661" fill="none" stroke="#000" stroke-width="18.9" stroke-linecap="butt" stroke-linejoin="round"/>
<path d="M267.5,526 L267.5,603 Q268,621 281,626.5 L366,661" fill="none" stroke="#fff" stroke-width="13.1" stroke-linecap="butt" stroke-linejoin="round"/>
<ellipse class="pf" cx="267.5" cy="526" rx="8.8" ry="3.6"/>
<ellipse class="p" cx="267.5" cy="526.3" rx="4.5" ry="1.6"/>
<ellipse class="pf" cx="366.5" cy="661" rx="5.8" ry="9.3" transform="rotate(18 366.5 661)"/>
<ellipse class="p" cx="367" cy="661" rx="2.6" ry="4.5" transform="rotate(18 367 661)"/>
<path class="pf" d="M178,526 L178,548 L172,551 L172.5,559 L189,553 L189,543 L197,547 L202.5,545 L202.5,523 L196,523 L196,520.5 Q187,518 178,526 Z"/>
<path class="p" d="M178,526 Q186,522 191,527 L191,544 M196,523 L196,546 M172,551 L186,546 L189,543 M172,545 L186,540 L186,546 M172,545 L172,551 M178,536 L186,533 L186,540" style="stroke-width:2.3"/>
<path class="pf" d="M301.5,524.2 L306.7,507.5 L311.4,505.4 L320.2,513.8 L326,513.8 L326,524.2 L320.2,528.3 L318,534.6 L313.4,534.6Z"/>
<path class="p" d="M309,509 L319,519 L319,527" style="stroke-width:2.3"/>
<path class="pf" d="M320,527 L346,556 L357,546 L334,522 Z"/>
<ellipse class="pf" cx="325.5" cy="532.5" rx="4" ry="8" transform="rotate(38 325.5 532.5)"/>
<ellipse class="pf" cx="329" cy="535.5" rx="4" ry="8" transform="rotate(38 329 535.5)"/>
<ellipse class="pf" cx="335" cy="541" rx="3.4" ry="6.5" transform="rotate(38 335 541)"/>
<ellipse class="pf" cx="340" cy="545.5" rx="4" ry="8" transform="rotate(38 340 545.5)"/>
<ellipse class="pf" cx="343.5" cy="548" rx="4" ry="8" transform="rotate(38 343.5 548)"/>
<ellipse class="pf" cx="349.5" cy="551" rx="6" ry="7.6" transform="rotate(38 349.5 551)"/>
<ellipse class="p" cx="350" cy="551.5" rx="2.6" ry="3.6" transform="rotate(38 350 551.5)"/>
<path class="pf" d="M324.4,504.4 L331.7,495 Q336,492 340,491.4 L347.3,491.9 Q351,494 352.5,497 L355.6,504.4 L355.6,525.2 L351.5,530.4 L344.2,532.5 L334.8,524.2 L326.5,522 L324.4,520 Z"/>
<path class="p" d="M331.7,495 Q338,499 341,508 L342,520 M336,492.5 Q343,497 346,507 L347,515 M341,491.6 Q348,496 351,505 M346,492 Q351,495 354,501 M347,515 L355.6,511 M347,515 L347,528 M351,521 L351,530 M342,520 L344.2,532.5" style="stroke-width:2.3"/>
<path class="pf" d="M324.4,511.7 L331.7,508.5 L334.8,511.7 L334.8,520 L326.5,522 L324.4,520Z"/>
<ellipse class="k" cx="341" cy="524" rx="1.6" ry="1.6"/>
<path class="pf" d="M392,489 L420,476 L424,487 L398,501 Z"/>
<ellipse class="pf" cx="399" cy="492" rx="3.6" ry="8.5" transform="rotate(-25 399 492)"/>
<ellipse class="pf" cx="404" cy="489.5" rx="3.6" ry="6.5" transform="rotate(-25 404 489.5)"/>
<ellipse class="pf" cx="409" cy="487" rx="3.6" ry="8.5" transform="rotate(-25 409 487)"/>
<ellipse class="pf" cx="414" cy="484.5" rx="3.6" ry="6.5" transform="rotate(-25 414 484.5)"/>
<ellipse class="pf" cx="419.5" cy="481.5" rx="4" ry="8" transform="rotate(-25 419.5 481.5)"/>
<ellipse class="pf" cx="388" cy="494" rx="9" ry="17" transform="rotate(-25 388 494)"/>
<ellipse class="pf" cx="384" cy="496" rx="9" ry="17" transform="rotate(-25 384 496)"/>
<ellipse class="pf" cx="380" cy="498" rx="9" ry="17" transform="rotate(-25 380 498)"/>
<ellipse class="pf" cx="376" cy="500" rx="9" ry="17" transform="rotate(-25 376 500)"/>
<ellipse class="p" cx="375" cy="500.5" rx="5.5" ry="11" transform="rotate(-25 375 500.5)"/>
<ellipse class="p" cx="374.5" cy="500.8" rx="2.8" ry="6" transform="rotate(-25 374.5 500.8)"/>
<g transform="translate(440 474) rotate(0)">
<path class="pf" d="M-3.5,-11.6 Q2,-12.4 6.5,-10 Q11.5,-6.5 12,0 Q12.2,5.5 7.5,10 Q3,12.3 -3,11.6 Q-8.5,10 -11,5 Q-12.8,0 -11,-5.5 Q-8.5,-10.5 -3.5,-11.6 Z"/>
<ellipse class="k" cx="2.3" cy="0" rx="3.4" ry="9" transform="rotate(28 2.3 0)" style="stroke:#000;stroke-width:2.2"/>
<ellipse class="k" cx="2.8" cy="0.3" rx="1" ry="5.5" transform="rotate(28 2.8 0.3)" style="fill:#fff"/>
<path class="p" d="M-7.5,-5 L-5.5,2 L-1,-1" style="stroke-width:2.3"/>
</g>
<path d="M463,462.5 L500,446.5" fill="none" stroke="#000" stroke-width="18.9" stroke-linecap="butt" stroke-linejoin="round"/>
<path d="M463,462.5 L500,446.5" fill="none" stroke="#fff" stroke-width="13.1" stroke-linecap="butt" stroke-linejoin="round"/>
<ellipse class="pf" cx="500" cy="446.5" rx="4" ry="8" transform="rotate(-23.4 500 446.5)"/>
<path d="M497,439 L500,438 L502,455 L497,456Z" fill="#fff"/>
<path class="p" d="M496,438.2 Q506,440 504,452 Q502,456 499.5,455.5"/>
<ellipse class="pf" cx="463" cy="462.5" rx="5.6" ry="8.6" transform="rotate(-23.4 463 462.5)"/>
<ellipse class="p" cx="463" cy="462.5" rx="2.5" ry="4.2" transform="rotate(-23.4 463 462.5)"/>
<g transform="translate(524 437) rotate(10)">
<path class="pf" d="M-3.5,-11.6 Q2,-12.4 6.5,-10 Q11.5,-6.5 12,0 Q12.2,5.5 7.5,10 Q3,12.3 -3,11.6 Q-8.5,10 -11,5 Q-12.8,0 -11,-5.5 Q-8.5,-10.5 -3.5,-11.6 Z"/>
<ellipse class="k" cx="2.3" cy="0" rx="3.4" ry="9" transform="rotate(28 2.3 0)" style="stroke:#000;stroke-width:2.2"/>
<ellipse class="k" cx="2.8" cy="0.3" rx="1" ry="5.5" transform="rotate(28 2.8 0.3)" style="fill:#fff"/>
<path class="p" d="M-7.5,-5 L-5.5,2 L-1,-1" style="stroke-width:2.3"/>
</g>
<g transform="translate(368 570) rotate(0)">
<path class="pf" d="M-3.5,-11.6 Q2,-12.4 6.5,-10 Q11.5,-6.5 12,0 Q12.2,5.5 7.5,10 Q3,12.3 -3,11.6 Q-8.5,10 -11,5 Q-12.8,0 -11,-5.5 Q-8.5,-10.5 -3.5,-11.6 Z"/>
<ellipse class="k" cx="2.3" cy="0" rx="3.4" ry="9" transform="rotate(28 2.3 0)" style="stroke:#000;stroke-width:2.2"/>
<ellipse class="k" cx="2.8" cy="0.3" rx="1" ry="5.5" transform="rotate(28 2.8 0.3)" style="fill:#fff"/>
<path class="p" d="M-7.5,-5 L-5.5,2 L-1,-1" style="stroke-width:2.3"/>
</g>
<path d="M386.5,586 L426,625.5" fill="none" stroke="#000" stroke-width="18.4" stroke-linecap="butt" stroke-linejoin="round"/>
<path d="M386.5,586 L426,625.5" fill="none" stroke="#fff" stroke-width="12.6" stroke-linecap="butt" stroke-linejoin="round"/>
<path d="M382,592 L392,581 L388,580 L380,588Z" fill="#fff"/>
<path class="p" d="M381,591.5 Q378,586 383,582.5 Q388,578 392,580.5"/>
<ellipse class="pf" cx="426" cy="625.5" rx="5.2" ry="8.3" transform="rotate(45 426 625.5)"/>
<ellipse class="p" cx="426" cy="625.5" rx="2.3" ry="4" transform="rotate(45 426 625.5)"/>
<g transform="translate(446.5 642) rotate(0)">
<path class="pf" d="M-3.5,-11.6 Q2,-12.4 6.5,-10 Q11.5,-6.5 12,0 Q12.2,5.5 7.5,10 Q3,12.3 -3,11.6 Q-8.5,10 -11,5 Q-12.8,0 -11,-5.5 Q-8.5,-10.5 -3.5,-11.6 Z"/>
<ellipse class="k" cx="2.3" cy="0" rx="3.4" ry="9" transform="rotate(28 2.3 0)" style="stroke:#000;stroke-width:2.2"/>
<ellipse class="k" cx="2.8" cy="0.3" rx="1" ry="5.5" transform="rotate(28 2.8 0.3)" style="fill:#fff"/>
<path class="p" d="M-7.5,-5 L-5.5,2 L-1,-1" style="stroke-width:2.3"/>
</g>
<g transform="translate(391 670) rotate(0)">
<path class="pf" d="M-3.5,-11.6 Q2,-12.4 6.5,-10 Q11.5,-6.5 12,0 Q12.2,5.5 7.5,10 Q3,12.3 -3,11.6 Q-8.5,10 -11,5 Q-12.8,0 -11,-5.5 Q-8.5,-10.5 -3.5,-11.6 Z"/>
<ellipse class="k" cx="2.3" cy="0" rx="3.4" ry="9" transform="rotate(28 2.3 0)" style="stroke:#000;stroke-width:2.2"/>
<ellipse class="k" cx="2.8" cy="0.3" rx="1" ry="5.5" transform="rotate(28 2.8 0.3)" style="fill:#fff"/>
<path class="p" d="M-7.5,-5 L-5.5,2 L-1,-1" style="stroke-width:2.3"/>
</g>
<path d="M462,695 L484,686.5 Q493,683 488.5,677 L477.5,669" fill="none" stroke="#000" stroke-width="12.9" stroke-linecap="butt" stroke-linejoin="round"/>
<path d="M462,695 L484,686.5 Q493,683 488.5,677 L477.5,669" fill="none" stroke="#fff" stroke-width="7.1" stroke-linecap="butt" stroke-linejoin="round"/>
<path class="pf" d="M473,662 L464,655.5 L458,664.5 L468,671 Z"/>
<ellipse class="pf" cx="476.8" cy="669.5" rx="4.6" ry="7.6" transform="rotate(-52 476.8 669.5)"/>
<ellipse class="p" cx="474.2" cy="667.6" rx="4.2" ry="7.2" transform="rotate(-52 474.2 667.6)" style="stroke-width:2.3"/>
<ellipse class="pf" cx="461.5" cy="659.8" rx="6" ry="8.6" transform="rotate(-52 461.5 659.8)"/>
<ellipse class="p" cx="464.5" cy="662" rx="4" ry="7.4" transform="rotate(-52 464.5 662)" style="stroke-width:2.3"/>
<path d="M444,693 L472,704.8" fill="none" stroke="#000" stroke-width="13.4" stroke-linecap="butt" stroke-linejoin="round"/>
<path d="M444,693 L472,704.8" fill="none" stroke="#fff" stroke-width="7.6" stroke-linecap="butt" stroke-linejoin="round"/>
<path class="p" d="M456,692 L470,685 M462,696 L476,690 L479,699"/>
<path class="pf" d="M414.8,678.9 L444.3,688.7 L441.7,696.3 L412.2,686.5 Z"/>
<ellipse class="pf" cx="413.5" cy="682.7" rx="5.7" ry="8.9" transform="rotate(20 413.5 682.7)"/>
<ellipse class="p" cx="417" cy="683.8" rx="4" ry="7.6" transform="rotate(20 417 683.8)" style="stroke-width:2.3"/>
<ellipse class="pf" cx="428" cy="687" rx="4.6" ry="8.9" transform="rotate(20 428 687)"/>
<ellipse class="p" cx="431" cy="688" rx="4.2" ry="8.5" transform="rotate(20 431 688)" style="stroke-width:2.3"/>
<ellipse class="pf" cx="442.5" cy="692.5" rx="4.8" ry="9.9" transform="rotate(20 442.5 692.5)"/>
<ellipse class="p" cx="445.5" cy="693.6" rx="4.4" ry="9.5" transform="rotate(20 445.5 693.6)" style="stroke-width:2.3"/>
<path class="pf" d="M472.8,700.7 L502.8,711.2 L500.2,718.8 L470.2,708.3 Z"/>
<ellipse class="pf" cx="471.5" cy="704.5" rx="4.4" ry="9.2" transform="rotate(20 471.5 704.5)"/>
<ellipse class="p" cx="474.5" cy="705.6" rx="4" ry="8.8" transform="rotate(20 474.5 705.6)" style="stroke-width:2.3"/>
<ellipse class="pf" cx="487.5" cy="709.6" rx="4.4" ry="7.8" transform="rotate(20 487.5 709.6)"/>
<ellipse class="p" cx="490.5" cy="710.7" rx="4" ry="7.4" transform="rotate(20 490.5 710.7)" style="stroke-width:2.3"/>
<ellipse class="pf" cx="501.5" cy="715" rx="6.6" ry="8.9" transform="rotate(20 501.5 715)"/>
<ellipse class="p" cx="502.5" cy="715.4" rx="2.6" ry="3.8" transform="rotate(20 502.5 715.4)" style="stroke-width:2.8"/>
<g transform="translate(528.5 726.5) rotate(0)">
<path class="pf" d="M-3.5,-11.6 Q2,-12.4 6.5,-10 Q11.5,-6.5 12,0 Q12.2,5.5 7.5,10 Q3,12.3 -3,11.6 Q-8.5,10 -11,5 Q-12.8,0 -11,-5.5 Q-8.5,-10.5 -3.5,-11.6 Z"/>
<ellipse class="k" cx="2.3" cy="0" rx="3.4" ry="9" transform="rotate(28 2.3 0)" style="stroke:#000;stroke-width:2.2"/>
<ellipse class="k" cx="2.8" cy="0.3" rx="1" ry="5.5" transform="rotate(28 2.8 0.3)" style="fill:#fff"/>
<path class="p" d="M-7.5,-5 L-5.5,2 L-1,-1" style="stroke-width:2.3"/>
</g>
<g transform="translate(417 787) rotate(22)">
<path class="pf" d="M0,-11.3 L38.5,-11.3 L38.5,11.3 L0,11.3 Q-8.5,0 0,-11.3 Z"/>
<path class="pf" d="M4,-13.8 L40.5,-13.8 L42.5,-9.8 L6,-9.8 Z" style="stroke-width:2.1"/>
<path class="p" d="M5,-11.8 L41.5,-11.8" style="stroke-width:1.9"/>
<ellipse class="pf" cx="38.5" cy="0" rx="6.8" ry="11.3"/>
<ellipse class="p" cx="39" cy="1" rx="3.6" ry="5.9" style="stroke-width:2.2"/>
<path class="p" d="M39.5,-5.1 Q43.5,-3.4 44.5,-9 L42.5,-9.8" style="stroke-width:2.2"/>
</g>
<g transform="translate(475.5 811.5) rotate(22)">
<path class="pf" d="M0,-11.3 L72,-11.3 L72,11.3 L0,11.3 Q-8.5,0 0,-11.3 Z"/>
<path class="pf" d="M4,-13.8 L74,-13.8 L76,-9.8 L6,-9.8 Z" style="stroke-width:2.1"/>
<path class="p" d="M5,-11.8 L75,-11.8" style="stroke-width:1.9"/>
<ellipse class="pf" cx="72" cy="0" rx="6.8" ry="11.3"/>
<ellipse class="p" cx="72.5" cy="1" rx="3.6" ry="5.9" style="stroke-width:2.2"/>
<path class="p" d="M73,-5.1 Q77,-3.4 78,-9 L76,-9.8" style="stroke-width:2.2"/>
</g>
<g transform="translate(591.5 859.5) rotate(22)">
<path class="pf" d="M0,-11.3 L72,-11.3 L72,11.3 L0,11.3 Q-8.5,0 0,-11.3 Z"/>
<path class="pf" d="M4,-13.8 L74,-13.8 L76,-9.8 L6,-9.8 Z" style="stroke-width:2.1"/>
<path class="p" d="M5,-11.8 L75,-11.8" style="stroke-width:1.9"/>
<ellipse class="pf" cx="72" cy="0" rx="6.8" ry="11.3"/>
<ellipse class="p" cx="72.5" cy="1" rx="3.6" ry="5.9" style="stroke-width:2.2"/>
<path class="p" d="M73,-5.1 Q77,-3.4 78,-9 L76,-9.8" style="stroke-width:2.2"/>
</g>
<g transform="translate(689 899) rotate(22)">
<path class="pf" d="M0,-11.3 L38.5,-11.3 L38.5,11.3 L0,11.3 Q-8.5,0 0,-11.3 Z"/>
<path class="pf" d="M4,-13.8 L40.5,-13.8 L42.5,-9.8 L6,-9.8 Z" style="stroke-width:2.1"/>
<path class="p" d="M5,-11.8 L41.5,-11.8" style="stroke-width:1.9"/>
<ellipse class="pf" cx="38.5" cy="0" rx="6.8" ry="11.3"/>
<ellipse class="p" cx="39" cy="1" rx="3.6" ry="5.9" style="stroke-width:2.2"/>
<path class="p" d="M39.5,-5.1 Q43.5,-3.4 44.5,-9 L42.5,-9.8" style="stroke-width:2.2"/>
</g>
</g>
<g id="parts2">
<path class="pf" d="M541.5,194 L551.5,191 L552.5,210 L560,214 L556,219 L549,218 L541.5,213Z"/>
<ellipse class="p" cx="546.5" cy="201" rx="1.5" ry="2.4" style="stroke-width:2.1"/>
<path class="p" d="M541.5,213 L549,209.5 L552.5,210" style="stroke-width:2.2"/>
<path class="pf" d="M552.5,226 L552.5,241 Q556,248.5 575,248.5 Q585,248 592,244 L598,238 L598,226"/>
<ellipse class="pf" cx="575.3" cy="226.5" rx="22.8" ry="11"/>
<path class="p" d="M555,229 Q563,223 580,225.5 Q590,227.5 596,231" style="stroke-width:2.2"/>
<path class="pf" d="M578,240 L590,232 L597,228 L598,236 L604,240 L605,256 L590,263 L581,259 L590,255 L590,248 Z"/>
<path class="p" d="M590,248 L604,240 M590,255 L590,263 M583,236 L598,243 M586,233 L593,236.5" style="stroke-width:2.3"/>
<ellipse class="k" cx="596" cy="252" rx="1.6" ry="2.2"/>
<ellipse class="k" cx="581" cy="241.5" rx="2" ry="2"/>
<path class="pf" d="M516.6,275.8 L536.9,267.6 L533.1,258.4 L512.9,266.5Z"/>
<path class="p" d="M519.8,274.5 L517.9,264.5"/>
<path class="p" d="M523.8,272.9 L521.9,262.9"/>
<path class="p" d="M527.8,271.3 L526,261.2"/>
<path class="p" d="M531.9,269.6 L530,259.6"/>
<ellipse class="pf" cx="535" cy="263" rx="2.4" ry="5" transform="rotate(-21.9 535 263)"/>
<ellipse class="pf" cx="512.9" cy="271.9" rx="5" ry="12" transform="rotate(-21.9 512.9 271.9)"/>
<ellipse class="pf" cx="510.1" cy="273" rx="5" ry="12" transform="rotate(-21.9 510.1 273)"/>
<path class="pf" d="M502.5,286.3 L512.8,282.2 L505.7,264.6 L495.5,268.7Z"/>
<ellipse class="p" cx="508.3" cy="273.8" rx="5.2" ry="9.5" transform="rotate(-21.9 508.3 273.8)"/>
<ellipse class="pf" cx="499" cy="277.5" rx="6.5" ry="10" transform="rotate(-21.9 499 277.5)"/>
<path class="pf" d="M652.2,269.4 L632.9,261.4 L629.1,270.6 L648.4,278.6Z"/>
<path class="p" d="M649.3,268.2 L643.6,276.6"/>
<path class="p" d="M645.4,266.6 L639.7,275"/>
<path class="p" d="M641.6,265 L635.9,273.4"/>
<path class="p" d="M637.7,263.4 L632,271.8"/>
<ellipse class="pf" cx="631" cy="266" rx="2.4" ry="5" transform="rotate(-157.5 631 266)"/>
<ellipse class="pf" cx="652.1" cy="274.8" rx="5" ry="12" transform="rotate(-157.5 652.1 274.8)"/>
<ellipse class="pf" cx="654.9" cy="275.9" rx="5" ry="12" transform="rotate(-157.5 654.9 275.9)"/>
<path class="pf" d="M669.6,271.7 L659.5,267.5 L652.2,285.1 L662.4,289.3Z"/>
<ellipse class="p" cx="656.8" cy="276.7" rx="5.2" ry="9.5" transform="rotate(-157.5 656.8 276.7)"/>
<ellipse class="pf" cx="666" cy="280.5" rx="6.5" ry="10" transform="rotate(-157.5 666 280.5)"/>
<path d="M526,316 C524,268 560,268 568,330" fill="none" stroke="#000" stroke-width="9.6" stroke-linecap="butt" stroke-linejoin="round"/>
<path d="M526,316 C524,268 560,268 568,330" fill="none" stroke="#fff" stroke-width="5.6" stroke-linecap="butt" stroke-linejoin="round"/>
<path class="pf" d="M521,317 L531,313 L531,322 L521,324Z"/>
<path class="p" d="M524,316 L524,323 M528,315 L528,322" style="stroke-width:2.1"/>
<path class="pf" d="M512,324 L521,319 L535,321.5 L544,318 L545,332 L543,350 L543,362 L525,371 L512,364 L511,340 Z"/>
<path class="p" d="M512,324 L525,329 L544,320 M525,329 L525,347 M511,342 L525,348 L543,341 M525,348 L525,371 M517,326.5 L517,344 M531,326.5 L531,345 M536,324.5 L536,343.5 M512,332 L525,337 L544,329" style="stroke-width:2.3"/>
<path class="pf" d="M563,330 L563,343 L573,343 L573,330"/>
<path class="pf" d="M552,342 L552,360 Q556,369 575,369 Q592,368.5 597.5,361 L597.5,345"/>
<ellipse class="pf" cx="574.7" cy="343" rx="22.6" ry="8.2"/>
<path class="p" d="M552.5,353 Q560,361 584,359 L584,366.5 M584,359 L597.5,355 M585,341 L585,348 L595,351.5 M559,340 L559,352 L572,353.5 L572,344 M585,348 Q590,345 596,346" style="stroke-width:2.3"/>
<path class="pf" d="M556,367 L556,412 Q560,421 575,421 Q590,420 594,412 L594,366"/>
<path class="p" d="M556.5,392 Q566,400 580,399 Q590,397.5 594,392 M556.5,398 Q566,406 580,405 Q590,403.5 594,398 M558,407 Q566,413 580,412 Q590,411 593.5,406 M571,402 L571,408 M583,401 L583,407" style="stroke-width:2.3"/>
<path class="pf" d="M563,420 L565,426 L585,426 L587,419"/>
<path class="pf" d="M567.5,426 L567.5,441 Q575,446 582.5,441 L582.5,426"/>
<path class="p" d="M567.5,431 Q575,434.5 582.5,431 M567.5,436 Q575,439.5 582.5,436" style="stroke-width:2.3"/>
<path class="pf" d="M556,396 L546,394 Q541,396 541,401 L542,416 L548,418 L548,428 L556,431 L562,427 L562,414"/>
<path class="p" d="M547,401 L556,404 M548,418 L554,414" style="stroke-width:2.3"/>
<ellipse class="pf" cx="552.5" cy="421" rx="4.5" ry="6" transform="rotate(-20 552.5 421)"/>
<ellipse class="pf" cx="547" cy="423" rx="3.6" ry="5.4" transform="rotate(-20 547 423)"/>
<path class="pf" d="M563,476 L563,482 Q566,489 576,489 Q587,489 590,482 L590,476"/>
<path class="p" d="M563,480 Q575,487 590,480" style="stroke-width:2.3"/>
<path class="pf" d="M558.5,464 L558.5,470 Q562,478.5 576,478.5 Q590,478.5 594,470 L594,464"/>
<ellipse class="pf" cx="576.2" cy="464.5" rx="17.8" ry="8"/>
<ellipse class="pf" cx="576.2" cy="464" rx="9.5" ry="4"/>
<ellipse class="p" cx="576.2" cy="464.6" rx="5.5" ry="2" style="stroke-width:2.1"/>
<g transform="translate(611 676)">
<path class="pf" d="M-8,4 Q-4,0 2,0.5 L16,5 Q22,9 22,17 L21,29 L8,24 L6,18 L-4,24 L-14,27 L-21,22 L-6,14 Z"/>
<path class="p" d="M-6,14 L8,19 M2,0.5 Q9,6 8,19 M16,5 Q11,12 10,21 L20,24.5 M-18,18 L-10,21 M-14,15.5 L-3,19 M-10,21 L-14,27 M-3,19 L-7,25" style="stroke-width:2.3"/>
</g>
<g transform="translate(752.5 731)">
<path class="pf" d="M-8,4 Q-4,0 2,0.5 L16,5 Q22,9 22,17 L21,29 L8,24 L6,18 L-4,24 L-14,27 L-21,22 L-6,14 Z"/>
<path class="p" d="M-6,14 L8,19 M2,0.5 Q9,6 8,19 M16,5 Q11,12 10,21 L20,24.5 M-18,18 L-10,21 M-14,15.5 L-3,19 M-10,21 L-14,27 M-3,19 L-7,25" style="stroke-width:2.3"/>
</g>
<path class="pf" d="M682,705 Q670,703 667,713 Q665,722 676,726 L690,731 L700,728 L698,716 L704,714 L690,708 Z"/>
<path class="p" d="M690,708 L702,711 L705,715 L692,718 L692,722 L704,726 L705,731 L690,731" style="stroke-width:2"/>
<path class="pf" d="M676,726 L671,738 L677,743 L684,732 M690,731 L686,745 L693,748.5 L698,738 L705,731 M671,738 L678,736 M686,745 L694,743"/>
<path class="pf" d="M808,727 L816,724.5 L822,732 L829,736 L838,735 L844,752 Q842,763 830,765 L824,762 L818,748 L812,745 L808,752 L804,751 L806,741 L798,737 L800,733 L806,735 Z"/>
<path class="p" d="M816,724.5 L814,738 L818,748 M829,736 L831,748 L824,750 L818,748 M831,748 L842,745 M806,741 L812,745" style="stroke-width:2.3"/>
<path d="M556,740.5 L670,785.5" fill="none" stroke="#000" stroke-width="18.9" stroke-linecap="butt" stroke-linejoin="round"/>
<path d="M556,740.5 L670,785.5" fill="none" stroke="#fff" stroke-width="13.1" stroke-linecap="butt" stroke-linejoin="round"/>
<path d="M552,747 L560,733 L554,731 L546,742Z" fill="#fff"/>
<path class="p" d="M552,747.5 Q546,742 550,735.5 Q554,730.5 560.5,732.5"/>
<path class="p" d="M673,777.5 Q678,781 675,786.5 Q672,792.5 666.5,792.5"/>
<ellipse class="p" cx="674.5" cy="781.5" rx="1.8" ry="2.6" transform="rotate(20 674.5 781.5)" style="stroke-width:2.1"/>
<path d="M679,788 L796,835" fill="none" stroke="#000" stroke-width="18.9" stroke-linecap="butt" stroke-linejoin="round"/>
<path d="M679,788 L796,835" fill="none" stroke="#fff" stroke-width="13.1" stroke-linecap="butt" stroke-linejoin="round"/>
<ellipse class="pf" cx="679" cy="788" rx="4.6" ry="8.4" transform="rotate(22 679 788)"/>
<ellipse class="pf" cx="796" cy="835" rx="5.6" ry="8.8" transform="rotate(22 796 835)"/>
<ellipse class="p" cx="796.3" cy="835.2" rx="2.5" ry="4.2" transform="rotate(22 796.3 835.2)"/>
<path d="M886,683 L866,706 Q856,718 860,733 L890,808" fill="none" stroke="#000" stroke-width="19.4" stroke-linecap="butt" stroke-linejoin="round"/>
<path d="M886,683 L866,706 Q856,718 860,733 L890,808" fill="none" stroke="#fff" stroke-width="13.6" stroke-linecap="butt" stroke-linejoin="round"/>
<path d="M878,677 L893,690 L897,684 L884,673Z" fill="#fff"/>
<path class="p" d="M878.5,676.5 Q883,671 889.5,675 Q896,680 893.5,689.5"/>
<path d="M881,812.5 L898.5,805.5 L901,811 L884,818Z" fill="#fff"/>
<path class="p" d="M881.5,812 Q884,816 890,813.5 Q897,811 898,805"/>
<g transform="translate(0 0)">
<path class="pf" d="M896.6,661.9 L906.9,655.3 L911.6,655.3 L920,665.6 L920.5,672.2 L911.6,681.5 L905.9,680.6 L897,670.3 Z"/>
<path class="p" d="M899,664.7 Q907,667 909.5,672.5 Q911,676 910.5,680.5 M907.3,663.7 L913,666 L911,669 L918.3,671.5" style="stroke-width:2.5"/>
</g>
<g transform="translate(825 846.5) rotate(0)">
<path class="pf" d="M-3.5,-11.6 Q2,-12.4 6.5,-10 Q11.5,-6.5 12,0 Q12.2,5.5 7.5,10 Q3,12.3 -3,11.6 Q-8.5,10 -11,5 Q-12.8,0 -11,-5.5 Q-8.5,-10.5 -3.5,-11.6 Z"/>
<ellipse class="k" cx="2.3" cy="0" rx="3.4" ry="9" transform="rotate(28 2.3 0)" style="stroke:#000;stroke-width:2.2"/>
<ellipse class="k" cx="2.8" cy="0.3" rx="1" ry="5.5" transform="rotate(28 2.8 0.3)" style="fill:#fff"/>
<path class="p" d="M-7.5,-5 L-5.5,2 L-1,-1" style="stroke-width:2.3"/>
</g>
<g transform="translate(-83 144.6)">
<path class="pf" d="M969.2,682.5 Q969.5,677 975,674.5 Q982,672 989.3,673.6 Q994.5,676 994.3,682 L994,688.1 Q992,693 987.5,694.7 Q982,697 977.2,696.5 Q972.5,695 971,690.5 Z"/>
<path class="p" d="M971,685.5 Q980,684 993,678 M975,691 Q984,691 993.5,685" style="stroke-width:2.5"/>
<path class="k" d="M978,686.5 L990,681.5 L984,688.5 Z" style="stroke:#000;stroke-width:1.5"/>
</g>
<path class="pf" d="M889.8,869.4 L913.8,876.7 L915,868 L923,866.3 L926.3,879.8 Q926,886 921,888 Q917,889 912,886.5 L888.8,876.7 Z"/>
<path class="p" d="M913.8,876.7 L914.8,880.5 L911,881" style="stroke-width:2.3"/>
<path class="pf" d="M902,856 L902,866 Q910,872 919,866 L923,866.3 L921,861 L917,857"/>
<path class="p" d="M903,864 Q911,869 920,861" style="stroke-width:2.3"/>
<ellipse class="pf" cx="909.6" cy="852.7" rx="8.9" ry="6.3" transform="rotate(-8 909.6 852.7)"/>
<path class="p" d="M904,853 Q909,849 915,851 M906,856 L913,855" style="stroke-width:2.1"/>
<path class="pf" d="M853.5,853.7 L886.5,866.5 L883.5,874 L850.5,861 Z"/>
<ellipse class="pf" cx="852.3" cy="857.4" rx="6.6" ry="8.3" transform="rotate(20 852.3 857.4)"/>
<ellipse class="p" cx="856" cy="858.6" rx="4.4" ry="7.4" transform="rotate(20 856 858.6)" style="stroke-width:2.3"/>
<ellipse class="pf" cx="867.5" cy="863" rx="5" ry="9.2" transform="rotate(20 867.5 863)"/>
<ellipse class="p" cx="870.5" cy="864" rx="4.6" ry="8.8" transform="rotate(20 870.5 864)" style="stroke-width:2.3"/>
<ellipse class="pf" cx="885" cy="870.2" rx="5.4" ry="10.2" transform="rotate(20 885 870.2)"/>
<ellipse class="p" cx="888.3" cy="871.3" rx="5" ry="9.8" transform="rotate(20 888.3 871.3)" style="stroke-width:2.3"/>
<path class="pf" d="M782.5,869.4 L790.8,860.5 L852.3,886 L860.6,905.8 L859.6,917.3 L852.3,924 L845,923.5 L783.5,895.4 L782,891.3 L784,880.8 Z"/>
<path class="p" d="M790.8,863.2 L850.2,888.2" style="stroke-width:3.4"/>
<path class="p" d="M786.7,866.3 L847,891.8 L853,906 M785.6,871.5 L843,896.5 L848,908 L845,923.5 M784,880.8 L843,905.8 L846,909" style="stroke-width:2.3"/>
<path class="p" d="M851,900 Q856,906 855,913 Q852,919 849.5,915 Q848,911 849,907" style="stroke-width:2.3"/>
<g transform="translate(920 688) scale(1 0.86)">
<path class="pf" d="M1,14 Q6,3 12,2 L30,0 Q36,1 37,6 L46,30 Q44,40 30,44 Q24,45 20,44 L11,42 L0,18 Z"/>
<path class="p" d="M2,15 Q10,19 16,17 Q26,16 32,10 Q36,6 36,5 M16,17 L27,44 M12,2 Q5,6 9,9 L25,7 Q29,5 25,3 M9,9 Q10,13 16,12 L28,10.5 Q33,8 30,5" style="stroke-width:2.3"/>
</g>
<g transform="translate(956 761) scale(1 1.0)">
<path class="pf" d="M1,14 Q6,3 12,2 L30,0 Q36,1 37,6 L46,30 Q44,40 30,44 Q24,45 20,44 L11,42 L0,18 Z"/>
<path class="p" d="M2,15 Q10,19 16,17 Q26,16 32,10 Q36,6 36,5 M16,17 L27,44 M12,2 Q5,6 9,9 L25,7 Q29,5 25,3 M9,9 Q10,13 16,12 L28,10.5 Q33,8 30,5" style="stroke-width:2.3"/>
</g>
<path d="M992,707 L1007,737 Q1012,748 1023,745 Q1028,743 1031,739 L1044.5,720" fill="none" stroke="#000" stroke-width="17.9" stroke-linecap="butt" stroke-linejoin="round"/>
<path d="M992,707 L1007,737 Q1012,748 1023,745 Q1028,743 1031,739 L1044.5,720" fill="none" stroke="#fff" stroke-width="12.1" stroke-linecap="butt" stroke-linejoin="round"/>
<ellipse class="pf" cx="992" cy="706.5" rx="7.8" ry="4.6" transform="rotate(-25 992 706.5)"/>
<ellipse class="p" cx="992" cy="706.5" rx="4" ry="2" transform="rotate(-25 992 706.5)"/>
<path d="M1037.5,715.5 L1050.5,725 L1054.5,719 L1042.5,710Z" fill="#fff"/>
<path class="p" d="M1038.3,714.5 Q1042.5,709.5 1048.5,713 Q1054,717.5 1051.3,724.5"/>
<g transform="translate(0 0)">
<path class="pf" d="M969.2,682.5 Q969.5,677 975,674.5 Q982,672 989.3,673.6 Q994.5,676 994.3,682 L994,688.1 Q992,693 987.5,694.7 Q982,697 977.2,696.5 Q972.5,695 971,690.5 Z"/>
<path class="p" d="M971,685.5 Q980,684 993,678 M975,691 Q984,691 993.5,685" style="stroke-width:2.5"/>
<path class="k" d="M978,686.5 L990,681.5 L984,688.5 Z" style="stroke:#000;stroke-width:1.5"/>
</g>
<g transform="translate(1054 696) rotate(5)">
<ellipse class="pf" cx="2" cy="1.5" rx="13" ry="9.6" transform="rotate(30 2 1.5)" style="stroke-width:3"/>
<ellipse class="pf" cx="2.5" cy="0.5" rx="9" ry="4.6" transform="rotate(30 2.5 0.5)" style="stroke-width:2.6"/>
<path class="p" d="M-9,-8 L-13,-3 L-10,2 M-12,-13 L-5,-6 M-14,-6 L-7,-11"/>
<ellipse class="pf" cx="-13" cy="-4" rx="2.8" ry="2.8"/>
</g>
<path d="M941.5,639.5 L952,631 Q958,627.3 961.5,632 L966.5,648" fill="none" stroke="#000" stroke-width="11.5" stroke-linecap="butt" stroke-linejoin="round"/>
<path d="M941.5,639.5 L952,631 Q958,627.3 961.5,632 L966.5,648" fill="none" stroke="#fff" stroke-width="5.7" stroke-linecap="butt" stroke-linejoin="round"/>
<path class="pf" d="M931,645 L939,638 L944,645 L936,653 Z"/>
<ellipse class="pf" cx="927.7" cy="652.5" rx="8" ry="8.6" transform="rotate(-30 927.7 652.5)"/>
<ellipse class="p" cx="926.5" cy="653.5" rx="3.2" ry="3.6" transform="rotate(-30 926.5 653.5)" style="stroke-width:2.3"/>
<ellipse class="pf" cx="939.5" cy="643.5" rx="4.6" ry="9.6" transform="rotate(-38 939.5 643.5)"/>
<ellipse class="p" cx="941.5" cy="641.5" rx="4" ry="9" transform="rotate(-38 941.5 641.5)" style="stroke-width:2.3"/>
<ellipse class="pf" cx="966.2" cy="650.3" rx="9" ry="4.6" transform="rotate(22 966.2 650.3)"/>
<path class="pf" d="M963.5,656 L964,665 Q969,672.5 975.5,670.5 Q980.5,668 980.5,662 L978.5,655"/>
<ellipse class="pf" cx="971" cy="656.2" rx="7.6" ry="3.6" transform="rotate(15 971 656.2)"/>
<path class="p" d="M964,662.5 Q971,668 980,661.5" style="stroke-width:2.3"/>
<path class="pf" d="M1031,470 L1034,482 L1023,491 L1016,490Z"/>
<path class="pf" d="M990.5,448.5 L1024.5,453.5 Q1031.5,456 1032,462 L1032,470 L1020.5,488.5 Q1017,491.5 1013,491 L972,484 Q968,482 969.5,478 L985.5,452 Q987.5,448.5 990.5,448.5 Z"/>
<path class="p" d="M973,479 L1012,487 Q1016,487 1018,484 L1029,466 M987,452.5 L1022,457.5 Q1028,460 1028.5,466" style="stroke-width:2.1"/>
<path class="pf" d="M969.1,515.9 L981.1,533.7 L988.9,528.3 L977,510.6Z"/>
<path class="p" d="M971,518.7 L980,515"/>
<path class="p" d="M973.4,522.2 L982.3,518.6"/>
<path class="p" d="M975.7,525.7 L984.7,522.1"/>
<path class="p" d="M978.1,529.3 L987.1,525.6"/>
<ellipse class="pf" cx="985" cy="531" rx="4.8" ry="2.5" transform="rotate(146.1 985 531)"/>
<ellipse class="pf" cx="969.5" cy="507.9" rx="11.2" ry="8.2" transform="rotate(-12 969.5 507.9)"/>
<ellipse class="pf" cx="967.5" cy="505" rx="11.5" ry="8.5" transform="rotate(-12 967.5 505)"/>
<path class="p" d="M964,505.8 l7,-2.5 M968.5,507.2 l-1.5,-5.5" style="stroke-width:2.3"/>
<path class="pf" d="M1007,508 C1007.6,505.4 1009.8,503.6 1012,503 C1014.2,502.4 1016,506.4 1018,505 C1020,503.6 1020,498.1 1022,496 C1024,493.9 1026,493.7 1028,494.5 C1030,495.3 1029.6,497.7 1032,500 C1034.4,502.3 1037,504 1040,506 C1043,508 1045,508 1047,510 C1049,512 1050.2,513.4 1050,516 C1049.8,518.6 1048.4,520.6 1046,523 C1043.6,525.4 1042.4,526.6 1038,528 C1033.6,529.4 1028.2,531.4 1024,530 C1019.8,528.6 1020,523.8 1017,521 C1014,518.2 1011,518.6 1009,516 C1007,513.4 1006.4,510.6 1007,508Z"/>
<path class="p" d="M1018,505 L1026,521 L1024,530 M1022,496 L1030,512 L1046,513 M1026,521 L1038,518 L1038,528 M1030,512 L1032,520 M1012,503 L1016,512" style="stroke-width:2.3"/>
<ellipse class="k" cx="1029.5" cy="495" rx="2.6" ry="2.2"/>
<ellipse class="k" cx="1010" cy="509" rx="2.4" ry="3"/>
<path class="pf" d="M1096.1,551.2 L1103.9,565.2 L1111.8,560.8 L1103.9,546.8Z"/>
<path class="p" d="M1097.2,553.1 L1106,550.5"/>
<path class="p" d="M1098.7,555.9 L1107.6,553.3"/>
<path class="p" d="M1100.3,558.7 L1109.1,556.1"/>
<path class="p" d="M1101.9,561.5 L1110.7,558.9"/>
<ellipse class="pf" cx="1100" cy="549" rx="4.5" ry="2.2" transform="rotate(150.8 1100 549)"/>
<ellipse class="pf" cx="1111.5" cy="569.6" rx="8.1" ry="5.9" transform="rotate(150.8 1111.5 569.6)"/>
<ellipse class="pf" cx="1109.8" cy="566.5" rx="9.5" ry="6.5" transform="rotate(150.8 1109.8 566.5)"/>
<ellipse class="p" cx="1109.1" cy="565.2" rx="5.2" ry="3.2" transform="rotate(150.8 1109.1 565.2)"/>
<path class="pf" d="M1076,656 L1090,646 L1098,655 L1085,666 Z"/>
<ellipse class="pf" cx="1080.8" cy="661" rx="7" ry="5" transform="rotate(30 1080.8 661)"/>
<path class="p" d="M1077,659 L1084.5,663.5"/>
<path class="pf" d="M1072,636 Q1076,645 1084.3,646 Q1092,647 1098.5,643.5 Q1106,639 1107.5,632 L1107.3,623.8 L1068.4,629 Z"/>
<path class="pf" d="M1068.4,629 Q1070,638 1077.3,640 Q1087,641 1095,636.5 Q1105,631 1107.3,623.8 L1103.8,616.5"/>
<path class="pf" d="M1052,604 L1068.4,629 Q1078,636 1092,630 Q1103,624 1104,617 L1090,596 Z"/>
<path class="p" d="M1047.2,594.6 Q1049,603 1056,604.5 Q1066,606 1075.5,602.6 Q1085,598 1087.9,590.2"/>
<path class="p" d="M1052.5,604.3 Q1054,612 1061.3,613.4 Q1071,614 1080.8,609.6 Q1089,605 1091.4,597.3"/>
<path class="p" d="M1056,611 Q1059,618.5 1066,619.5 Q1076,620 1085,615.5 Q1093,611 1095,604" style="stroke-width:2.3"/>
<path class="pf" d="M1072,629 L1080.8,625.6 L1086,630.9 L1093.2,643.3 L1102,653.9 L1107.3,669.8 L1105.6,684 Q1103,688 1098.5,687.5 L1093.2,684 L1092.3,671.6 L1087.9,653.9 L1080,643.3 L1068.4,636.2 Z"/>
<path class="p" d="M1078,629 L1088,642 L1097,655 L1101.5,670 L1101,680" style="stroke-width:2.1"/>
<ellipse class="p" cx="1098.3" cy="678" rx="2.4" ry="3.4" transform="rotate(-10 1098.3 678)" style="stroke-width:2.1"/>
<path class="p" d="M1083,622 L1085,628 M1078,623 L1090,620" style="stroke-width:2.1"/>
<path class="pf" d="M1043.6,543.3 L1066.6,543.3 L1071,547.7 L1080.8,550.4 L1086,558.3 L1086,570.7 L1080,577.8 L1076.4,576 L1074,584 L1086,590 Q1083,598 1072,601.5 Q1060,604.5 1052,602 L1047.2,594.6 L1036.5,592.8 L1033.9,584.9 L1036.5,576 L1025,570.7 L1023.3,563.6 L1027.7,553.9 L1036.5,553 Z"/>
<path class="p" d="M1045.4,546.8 L1064.9,545.9 L1069.3,551.2 L1064.9,586.6 L1052.5,588.4 L1039.2,574.2 L1039.2,561.9Z" style="stroke-width:2.2"/>
<path class="p" d="M1047.5,551 L1062.5,550.5 L1060,581.5 L1053,582.5 L1043.5,572 L1043.5,563Z" style="stroke-width:1.9"/>
<ellipse class="pf" cx="1051.6" cy="563.6" rx="5.6" ry="5.6" style="stroke-width:2.2"/>
<ellipse class="p" cx="1051.6" cy="563.6" rx="2.2" ry="2.2" style="stroke-width:1.9"/>
<path class="p" d="M1072.5,560 L1080.5,559 L1084.5,565.5 L1080,572.5 L1072.5,570Z" style="stroke-width:2.2"/>
<ellipse class="p" cx="1076.6" cy="566" rx="1.8" ry="1.8" style="stroke-width:1.9"/>
<path class="p" d="M1027.5,556 L1036.5,555 L1036.5,570.5 L1028.5,569.5Z" style="stroke-width:2.2"/>
<ellipse class="p" cx="1031.5" cy="562" rx="1.5" ry="1.8" style="stroke-width:1.9"/>
<path class="p" d="M1036.5,576 L1046,589 L1058,592.5 L1070,590.5 L1073,578 M1036.5,592.8 L1048,596.5 L1060,598.5 L1072,596 L1074,584" style="stroke-width:2.2"/>
<path class="pf" d="M1119,671.3 L1138.2,670.1 L1133.1,658.2Z"/>
<path class="p" d="M1123.7,671.4 L1124.3,666.9"/>
<path class="p" d="M1127.5,671.2 L1127.1,664.3"/>
<path class="p" d="M1131.3,671 L1130,661.6"/>
<path class="p" d="M1135.2,670.7 L1132.8,659"/>
<ellipse class="pf" cx="1149.4" cy="658.2" rx="5.5" ry="11.5" transform="rotate(-23.2 1149.4 658.2)"/>
<path class="p" d="M1147.9,672.5 L1154,668.8"/>
<path class="p" d="M1138.1,649.5 L1144.9,647.7"/>
<ellipse class="pf" cx="1146.2" cy="659.6" rx="5.8" ry="12.2" transform="rotate(-23.2 1146.2 659.6)"/>
<ellipse class="pf" cx="1143" cy="661" rx="6" ry="12.8" transform="rotate(-23.2 1143 661)"/>
<ellipse class="p" cx="1142.1" cy="661.4" rx="3" ry="6" transform="rotate(-23.2 1142.1 661.4)"/>
</g>
<text class="lb" id="l0" x="139" y="74">12</text>
<text class="lb" id="l1" x="116" y="132">32</text>
<text class="lb" id="l2" x="306" y="137.5">14</text>
<text class="lb" id="l3" x="374.5" y="186">13</text>
<text class="lb" id="l4" x="184" y="236">11</text>
<text class="lb" id="l5" x="406.4" y="259">30</text>
<text class="lb" id="l6" x="115" y="349">2</text>
<text class="lb" id="l7" x="68" y="394">20</text>
<text class="lb" id="l8" x="242.5" y="381">7</text>
<text class="lb" id="l9" x="194.5" y="474">3</text>
<text class="lb" id="l10" x="205.5" y="517">3</text>
<text class="lb" id="l11" x="320" y="453.5">9</text>
<text class="lb" id="l12" x="385.5" y="437">8</text>
<text class="lb" id="l13" x="430.5" y="421">3</text>
<text class="lb" id="l14" x="305" y="579">3</text>
<text class="lb" id="l15" x="469" y="616">17</text>
<text class="lb" id="l16" x="464" y="531">25</text>
<text class="lb" id="l17" x="515" y="509">3</text>
<text class="lb" id="l18" x="556.5" y="152">10</text>
<text class="lb" id="l19" x="495" y="217.5">31</text>
<text class="lb" id="l20" x="708" y="287">5</text>
<text class="lb" id="l21" x="631" y="370">6</text>
<text class="lb" id="l22" x="626" y="482.5">1</text>
<text class="lb" id="l23" x="297.5" y="730">21</text>
<text class="lb" id="l24" x="383" y="742.5">3</text>
<text class="lb" id="l25" x="446" y="756">26</text>
<text class="lb" id="l26" x="343" y="804">24</text>
<text class="lb" id="l27" x="491.6" y="652.5">3</text>
<text class="lb" id="l28" x="520" y="675">3</text>
<text class="lb" id="l29" x="669" y="662.5">33</text>
<text class="lb" id="l30" x="804" y="685">33</text>
<text class="lb" id="l31" x="856" y="639">22</text>
<text class="lb" id="l32" x="899.5" y="616">3</text>
<text class="lb" id="l33" x="623.9" y="737.5">19</text>
<text class="lb" id="l34" x="598.5" y="822.5">27</text>
<text class="lb" id="l35" x="494.8" y="909.8">27</text>
<text class="lb" id="l36" x="691" y="849">24</text>
<text class="lb" id="l37" x="775" y="943">29</text>
<text class="lb" id="l38" x="888" y="936">28</text>
<text class="lb" id="l39" x="816.6" y="796">3</text>
<text class="lb" id="l40" x="933.6" y="839">3</text>
<text class="lb" id="l41" x="917" y="767.5">23</text>
<text class="lb" id="l42" x="961.5" y="865">24</text>
<text class="lb" id="l43" x="1015" y="796">20</text>
<text class="lb" id="l44" x="1065.6" y="480">16</text>
<text class="lb" id="l45" x="889" y="524">32</text>
<text class="lb" id="l46" x="1083.5" y="521">18</text>
<text class="lb" id="l47" x="1153.5" y="571">13</text>
<text class="lb" id="l48" x="1142.4" y="625">15</text>
<text class="lb" id="l49" x="942.5" y="586">7</text>
<text class="lb" id="l50" x="1188" y="671">30</text>
<text class="lb" id="l51" x="1013" y="688">3</text>
<text class="lb" id="l52" x="1122.5" y="714">2</text>
<text id="b15" x="1100.7" y="156.1" font-family="'Liberation Sans',Arial,sans-serif" font-weight="bold" font-size="28.8" textLength="73.5" lengthAdjust="spacingAndGlyphs" fill="#000" stroke="#000" stroke-width="1.9" stroke-linejoin="miter">B-15</text>
<polygon class="ld" points="1180.4,145.5 1207.2,116.5 1207.2,130 1221.7,130 1221.7,162.3 1207.2,162.3 1207.2,174.5" style="stroke-width:2"/>
<text id="smj" x="1728" y="934.8" font-family="'Liberation Sans',Arial,sans-serif" font-size="22" fill="#000" stroke="#000" stroke-width="0.7">SMJ7B1510</text>
<polygon class="k" points="76,865 87.5,837 92,846.5 132.5,829.5 141,851.5 100.5,868.5 105,878"/>
<polygon class="k" points="134.5,828.8 136.5,828 145.3,850 143.3,850.8"/>
<text id="fr" transform="translate(141.6 850.8) rotate(-19.5)" font-family="'Liberation Sans',Arial,sans-serif" font-weight="bold" font-size="34" fill="#000" stroke="#000" stroke-width="1">FR<tspan font-size="70" dx="-4.5" dy="-2.5">.</tspan></text>
<g id="wm" transform="translate(79.7 932.6) rotate(-23.44)" font-family="'Liberation Sans',Arial,sans-serif" font-size="250.3" fill="#000" fill-opacity="0.057">
<text transform="translate(0 0) scale(1 1.041)">H</text><text x="180.8" y="0">onda</text><text transform="translate(737.6 0) scale(1 1.041)">C</text><text x="918.3" y="0">ar</text><text transform="translate(1140.9 0) scale(1 1.041)">M</text><text x="1349.4" y="0">ine.ru</text>
</g>
<rect x="116.7" y="523.7" width="28.6" height="33.4" fill="#fff" stroke="#990033" stroke-width="5.4"/>
<text class="lb" id="b0" x="121.4" y="551">4</text>
<rect x="597.7" y="609.7" width="28.6" height="34.6" fill="#fff" stroke="#990033" stroke-width="5.4"/>
<text class="lb" id="b1" x="602.4" y="637">4</text>
<rect x="739.7" y="664.7" width="27.6" height="33.6" fill="#fff" stroke="#990033" stroke-width="5.4"/>
<text class="lb" id="b2" x="743.5" y="691.2">4</text>
</svg>
</body></html>
